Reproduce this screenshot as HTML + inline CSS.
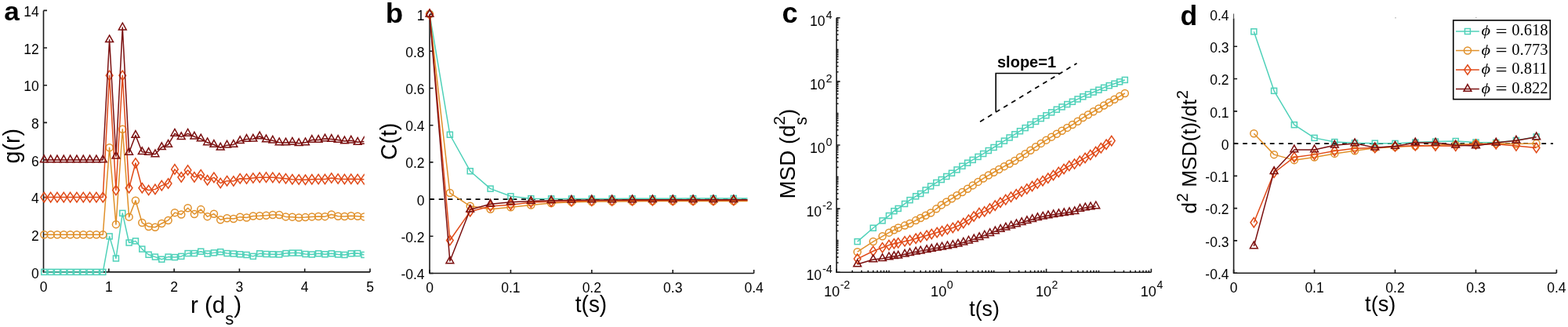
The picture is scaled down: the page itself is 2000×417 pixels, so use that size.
<!DOCTYPE html>
<html><head><meta charset="utf-8"><title>Figure</title>
<style>html,body{margin:0;padding:0;background:#fff;}svg{display:block;}</style></head>
<body><svg width="2000" height="417" viewBox="0 0 2000 417">
<defs><clipPath id="clipA"><rect x="0" y="0" width="464.8" height="417"/></clipPath><clipPath id="clipB"><rect x="500" y="0" width="453.5" height="417"/></clipPath></defs>
<rect width="2000" height="417" fill="#fff"/>
<path d="M55.5 13.42V346.9H472" fill="none" stroke="#1a1a1a" stroke-width="1.6" stroke-linecap="butt"/>
<path d="M55.5 346.9h4.5M55.5 299.26h4.5M55.5 251.62h4.5M55.5 203.98h4.5M55.5 156.34h4.5M55.5 108.7h4.5M55.5 61.06h4.5M55.5 13.42h4.5" stroke="#1a1a1a" stroke-width="1.6" fill="none"/>
<path d="M55.5 346.9v-4.5M138.8 346.9v-4.5M222.1 346.9v-4.5M305.4 346.9v-4.5M388.7 346.9v-4.5M472 346.9v-4.5" stroke="#1a1a1a" stroke-width="1.6" fill="none"/>
<text x="49.8" y="354.5" font-family="'Liberation Sans', Arial, sans-serif" font-size="17.5" text-anchor="end" font-weight="normal" >0</text>
<text x="49.8" y="306.86" font-family="'Liberation Sans', Arial, sans-serif" font-size="17.5" text-anchor="end" font-weight="normal" >2</text>
<text x="49.8" y="259.22" font-family="'Liberation Sans', Arial, sans-serif" font-size="17.5" text-anchor="end" font-weight="normal" >4</text>
<text x="49.8" y="211.58" font-family="'Liberation Sans', Arial, sans-serif" font-size="17.5" text-anchor="end" font-weight="normal" >6</text>
<text x="49.8" y="163.94" font-family="'Liberation Sans', Arial, sans-serif" font-size="17.5" text-anchor="end" font-weight="normal" >8</text>
<text x="49.8" y="116.3" font-family="'Liberation Sans', Arial, sans-serif" font-size="17.5" text-anchor="end" font-weight="normal" >10</text>
<text x="49.8" y="68.66" font-family="'Liberation Sans', Arial, sans-serif" font-size="17.5" text-anchor="end" font-weight="normal" >12</text>
<text x="49.8" y="21.02" font-family="'Liberation Sans', Arial, sans-serif" font-size="17.5" text-anchor="end" font-weight="normal" >14</text>
<text x="55.5" y="371.9" font-family="'Liberation Sans', Arial, sans-serif" font-size="17.5" text-anchor="middle" font-weight="normal" >0</text>
<text x="138.8" y="371.9" font-family="'Liberation Sans', Arial, sans-serif" font-size="17.5" text-anchor="middle" font-weight="normal" >1</text>
<text x="222.1" y="371.9" font-family="'Liberation Sans', Arial, sans-serif" font-size="17.5" text-anchor="middle" font-weight="normal" >2</text>
<text x="305.4" y="371.9" font-family="'Liberation Sans', Arial, sans-serif" font-size="17.5" text-anchor="middle" font-weight="normal" >3</text>
<text x="388.7" y="371.9" font-family="'Liberation Sans', Arial, sans-serif" font-size="17.5" text-anchor="middle" font-weight="normal" >4</text>
<text x="472" y="371.9" font-family="'Liberation Sans', Arial, sans-serif" font-size="17.5" text-anchor="middle" font-weight="normal" >5</text>
<g clip-path="url(#clipA)">
<polyline points="56.3,346.9 64.63,346.9 72.96,346.9 81.29,346.9 89.62,346.9 97.95,346.9 106.28,346.9 114.61,346.9 122.94,346.9 131.27,346.9 139.6,301.4 147.93,329.51 156.26,271.87 164.59,309.5 172.92,307.36 181.25,317.6 189.58,324.75 197.91,327.61 206.24,330.7 214.57,327.61 222.9,328.08 231.23,326.89 239.56,323.08 247.89,323.08 256.22,320.7 264.55,323.56 272.88,322.37 281.21,321.17 289.54,323.08 297.87,323.56 306.2,324.27 314.53,324.99 322.86,326.89 331.19,323.32 339.52,324.03 347.85,324.27 356.18,324.51 364.51,323.08 372.84,322.6 381.17,322.6 389.5,324.03 397.83,324.51 406.16,323.32 414.49,324.27 422.82,323.32 431.15,324.51 439.48,324.99 447.81,323.32 456.14,323.08 464.47,324.99" fill="none" stroke="#4FD1B9" stroke-width="1.5" stroke-linejoin="round"/>
<rect x="52.8" y="343.4" width="7" height="7" fill="none" stroke="#4FD1B9" stroke-width="1.5"/>
<rect x="61.13" y="343.4" width="7" height="7" fill="none" stroke="#4FD1B9" stroke-width="1.5"/>
<rect x="69.46" y="343.4" width="7" height="7" fill="none" stroke="#4FD1B9" stroke-width="1.5"/>
<rect x="77.79" y="343.4" width="7" height="7" fill="none" stroke="#4FD1B9" stroke-width="1.5"/>
<rect x="86.12" y="343.4" width="7" height="7" fill="none" stroke="#4FD1B9" stroke-width="1.5"/>
<rect x="94.45" y="343.4" width="7" height="7" fill="none" stroke="#4FD1B9" stroke-width="1.5"/>
<rect x="102.78" y="343.4" width="7" height="7" fill="none" stroke="#4FD1B9" stroke-width="1.5"/>
<rect x="111.11" y="343.4" width="7" height="7" fill="none" stroke="#4FD1B9" stroke-width="1.5"/>
<rect x="119.44" y="343.4" width="7" height="7" fill="none" stroke="#4FD1B9" stroke-width="1.5"/>
<rect x="127.77" y="343.4" width="7" height="7" fill="none" stroke="#4FD1B9" stroke-width="1.5"/>
<rect x="136.1" y="297.9" width="7" height="7" fill="none" stroke="#4FD1B9" stroke-width="1.5"/>
<rect x="144.43" y="326.01" width="7" height="7" fill="none" stroke="#4FD1B9" stroke-width="1.5"/>
<rect x="152.76" y="268.37" width="7" height="7" fill="none" stroke="#4FD1B9" stroke-width="1.5"/>
<rect x="161.09" y="306" width="7" height="7" fill="none" stroke="#4FD1B9" stroke-width="1.5"/>
<rect x="169.42" y="303.86" width="7" height="7" fill="none" stroke="#4FD1B9" stroke-width="1.5"/>
<rect x="177.75" y="314.1" width="7" height="7" fill="none" stroke="#4FD1B9" stroke-width="1.5"/>
<rect x="186.08" y="321.25" width="7" height="7" fill="none" stroke="#4FD1B9" stroke-width="1.5"/>
<rect x="194.41" y="324.11" width="7" height="7" fill="none" stroke="#4FD1B9" stroke-width="1.5"/>
<rect x="202.74" y="327.2" width="7" height="7" fill="none" stroke="#4FD1B9" stroke-width="1.5"/>
<rect x="211.07" y="324.11" width="7" height="7" fill="none" stroke="#4FD1B9" stroke-width="1.5"/>
<rect x="219.4" y="324.58" width="7" height="7" fill="none" stroke="#4FD1B9" stroke-width="1.5"/>
<rect x="227.73" y="323.39" width="7" height="7" fill="none" stroke="#4FD1B9" stroke-width="1.5"/>
<rect x="236.06" y="319.58" width="7" height="7" fill="none" stroke="#4FD1B9" stroke-width="1.5"/>
<rect x="244.39" y="319.58" width="7" height="7" fill="none" stroke="#4FD1B9" stroke-width="1.5"/>
<rect x="252.72" y="317.2" width="7" height="7" fill="none" stroke="#4FD1B9" stroke-width="1.5"/>
<rect x="261.05" y="320.06" width="7" height="7" fill="none" stroke="#4FD1B9" stroke-width="1.5"/>
<rect x="269.38" y="318.87" width="7" height="7" fill="none" stroke="#4FD1B9" stroke-width="1.5"/>
<rect x="277.71" y="317.67" width="7" height="7" fill="none" stroke="#4FD1B9" stroke-width="1.5"/>
<rect x="286.04" y="319.58" width="7" height="7" fill="none" stroke="#4FD1B9" stroke-width="1.5"/>
<rect x="294.37" y="320.06" width="7" height="7" fill="none" stroke="#4FD1B9" stroke-width="1.5"/>
<rect x="302.7" y="320.77" width="7" height="7" fill="none" stroke="#4FD1B9" stroke-width="1.5"/>
<rect x="311.03" y="321.49" width="7" height="7" fill="none" stroke="#4FD1B9" stroke-width="1.5"/>
<rect x="319.36" y="323.39" width="7" height="7" fill="none" stroke="#4FD1B9" stroke-width="1.5"/>
<rect x="327.69" y="319.82" width="7" height="7" fill="none" stroke="#4FD1B9" stroke-width="1.5"/>
<rect x="336.02" y="320.53" width="7" height="7" fill="none" stroke="#4FD1B9" stroke-width="1.5"/>
<rect x="344.35" y="320.77" width="7" height="7" fill="none" stroke="#4FD1B9" stroke-width="1.5"/>
<rect x="352.68" y="321.01" width="7" height="7" fill="none" stroke="#4FD1B9" stroke-width="1.5"/>
<rect x="361.01" y="319.58" width="7" height="7" fill="none" stroke="#4FD1B9" stroke-width="1.5"/>
<rect x="369.34" y="319.1" width="7" height="7" fill="none" stroke="#4FD1B9" stroke-width="1.5"/>
<rect x="377.67" y="319.1" width="7" height="7" fill="none" stroke="#4FD1B9" stroke-width="1.5"/>
<rect x="386" y="320.53" width="7" height="7" fill="none" stroke="#4FD1B9" stroke-width="1.5"/>
<rect x="394.33" y="321.01" width="7" height="7" fill="none" stroke="#4FD1B9" stroke-width="1.5"/>
<rect x="402.66" y="319.82" width="7" height="7" fill="none" stroke="#4FD1B9" stroke-width="1.5"/>
<rect x="410.99" y="320.77" width="7" height="7" fill="none" stroke="#4FD1B9" stroke-width="1.5"/>
<rect x="419.32" y="319.82" width="7" height="7" fill="none" stroke="#4FD1B9" stroke-width="1.5"/>
<rect x="427.65" y="321.01" width="7" height="7" fill="none" stroke="#4FD1B9" stroke-width="1.5"/>
<rect x="435.98" y="321.49" width="7" height="7" fill="none" stroke="#4FD1B9" stroke-width="1.5"/>
<rect x="444.31" y="319.82" width="7" height="7" fill="none" stroke="#4FD1B9" stroke-width="1.5"/>
<rect x="452.64" y="319.58" width="7" height="7" fill="none" stroke="#4FD1B9" stroke-width="1.5"/>
<rect x="460.97" y="321.49" width="7" height="7" fill="none" stroke="#4FD1B9" stroke-width="1.5"/>
<polyline points="56.3,299.26 64.63,299.26 72.96,299.26 81.29,299.26 89.62,299.26 97.95,299.26 106.28,299.26 114.61,299.26 122.94,299.26 131.27,299.26 139.6,188.26 147.93,286.16 156.26,164.68 164.59,276.63 172.92,255.67 181.25,284.02 189.58,289.02 197.91,289.73 206.24,284.97 214.57,280.92 222.9,271.15 231.23,273.53 239.56,265.2 247.89,273.06 256.22,267.1 264.55,276.15 272.88,272.82 281.21,280.2 289.54,278.3 297.87,279.01 306.2,276.63 314.53,277.58 322.86,275.44 331.19,275.2 339.52,274.73 347.85,274.01 356.18,274.01 364.51,276.39 372.84,276.63 381.17,277.58 389.5,277.11 397.83,276.39 406.16,275.92 414.49,276.15 422.82,273.53 431.15,275.68 439.48,275.92 447.81,275.2 456.14,275.68 464.47,276.39" fill="none" stroke="#E0902A" stroke-width="1.5" stroke-linejoin="round"/>
<circle cx="56.3" cy="299.26" r="4.5" fill="none" stroke="#E0902A" stroke-width="1.5"/>
<circle cx="64.63" cy="299.26" r="4.5" fill="none" stroke="#E0902A" stroke-width="1.5"/>
<circle cx="72.96" cy="299.26" r="4.5" fill="none" stroke="#E0902A" stroke-width="1.5"/>
<circle cx="81.29" cy="299.26" r="4.5" fill="none" stroke="#E0902A" stroke-width="1.5"/>
<circle cx="89.62" cy="299.26" r="4.5" fill="none" stroke="#E0902A" stroke-width="1.5"/>
<circle cx="97.95" cy="299.26" r="4.5" fill="none" stroke="#E0902A" stroke-width="1.5"/>
<circle cx="106.28" cy="299.26" r="4.5" fill="none" stroke="#E0902A" stroke-width="1.5"/>
<circle cx="114.61" cy="299.26" r="4.5" fill="none" stroke="#E0902A" stroke-width="1.5"/>
<circle cx="122.94" cy="299.26" r="4.5" fill="none" stroke="#E0902A" stroke-width="1.5"/>
<circle cx="131.27" cy="299.26" r="4.5" fill="none" stroke="#E0902A" stroke-width="1.5"/>
<circle cx="139.6" cy="188.26" r="4.5" fill="none" stroke="#E0902A" stroke-width="1.5"/>
<circle cx="147.93" cy="286.16" r="4.5" fill="none" stroke="#E0902A" stroke-width="1.5"/>
<circle cx="156.26" cy="164.68" r="4.5" fill="none" stroke="#E0902A" stroke-width="1.5"/>
<circle cx="164.59" cy="276.63" r="4.5" fill="none" stroke="#E0902A" stroke-width="1.5"/>
<circle cx="172.92" cy="255.67" r="4.5" fill="none" stroke="#E0902A" stroke-width="1.5"/>
<circle cx="181.25" cy="284.02" r="4.5" fill="none" stroke="#E0902A" stroke-width="1.5"/>
<circle cx="189.58" cy="289.02" r="4.5" fill="none" stroke="#E0902A" stroke-width="1.5"/>
<circle cx="197.91" cy="289.73" r="4.5" fill="none" stroke="#E0902A" stroke-width="1.5"/>
<circle cx="206.24" cy="284.97" r="4.5" fill="none" stroke="#E0902A" stroke-width="1.5"/>
<circle cx="214.57" cy="280.92" r="4.5" fill="none" stroke="#E0902A" stroke-width="1.5"/>
<circle cx="222.9" cy="271.15" r="4.5" fill="none" stroke="#E0902A" stroke-width="1.5"/>
<circle cx="231.23" cy="273.53" r="4.5" fill="none" stroke="#E0902A" stroke-width="1.5"/>
<circle cx="239.56" cy="265.2" r="4.5" fill="none" stroke="#E0902A" stroke-width="1.5"/>
<circle cx="247.89" cy="273.06" r="4.5" fill="none" stroke="#E0902A" stroke-width="1.5"/>
<circle cx="256.22" cy="267.1" r="4.5" fill="none" stroke="#E0902A" stroke-width="1.5"/>
<circle cx="264.55" cy="276.15" r="4.5" fill="none" stroke="#E0902A" stroke-width="1.5"/>
<circle cx="272.88" cy="272.82" r="4.5" fill="none" stroke="#E0902A" stroke-width="1.5"/>
<circle cx="281.21" cy="280.2" r="4.5" fill="none" stroke="#E0902A" stroke-width="1.5"/>
<circle cx="289.54" cy="278.3" r="4.5" fill="none" stroke="#E0902A" stroke-width="1.5"/>
<circle cx="297.87" cy="279.01" r="4.5" fill="none" stroke="#E0902A" stroke-width="1.5"/>
<circle cx="306.2" cy="276.63" r="4.5" fill="none" stroke="#E0902A" stroke-width="1.5"/>
<circle cx="314.53" cy="277.58" r="4.5" fill="none" stroke="#E0902A" stroke-width="1.5"/>
<circle cx="322.86" cy="275.44" r="4.5" fill="none" stroke="#E0902A" stroke-width="1.5"/>
<circle cx="331.19" cy="275.2" r="4.5" fill="none" stroke="#E0902A" stroke-width="1.5"/>
<circle cx="339.52" cy="274.73" r="4.5" fill="none" stroke="#E0902A" stroke-width="1.5"/>
<circle cx="347.85" cy="274.01" r="4.5" fill="none" stroke="#E0902A" stroke-width="1.5"/>
<circle cx="356.18" cy="274.01" r="4.5" fill="none" stroke="#E0902A" stroke-width="1.5"/>
<circle cx="364.51" cy="276.39" r="4.5" fill="none" stroke="#E0902A" stroke-width="1.5"/>
<circle cx="372.84" cy="276.63" r="4.5" fill="none" stroke="#E0902A" stroke-width="1.5"/>
<circle cx="381.17" cy="277.58" r="4.5" fill="none" stroke="#E0902A" stroke-width="1.5"/>
<circle cx="389.5" cy="277.11" r="4.5" fill="none" stroke="#E0902A" stroke-width="1.5"/>
<circle cx="397.83" cy="276.39" r="4.5" fill="none" stroke="#E0902A" stroke-width="1.5"/>
<circle cx="406.16" cy="275.92" r="4.5" fill="none" stroke="#E0902A" stroke-width="1.5"/>
<circle cx="414.49" cy="276.15" r="4.5" fill="none" stroke="#E0902A" stroke-width="1.5"/>
<circle cx="422.82" cy="273.53" r="4.5" fill="none" stroke="#E0902A" stroke-width="1.5"/>
<circle cx="431.15" cy="275.68" r="4.5" fill="none" stroke="#E0902A" stroke-width="1.5"/>
<circle cx="439.48" cy="275.92" r="4.5" fill="none" stroke="#E0902A" stroke-width="1.5"/>
<circle cx="447.81" cy="275.2" r="4.5" fill="none" stroke="#E0902A" stroke-width="1.5"/>
<circle cx="456.14" cy="275.68" r="4.5" fill="none" stroke="#E0902A" stroke-width="1.5"/>
<circle cx="464.47" cy="276.39" r="4.5" fill="none" stroke="#E0902A" stroke-width="1.5"/>
<polyline points="56.3,251.62 64.63,251.62 72.96,251.62 81.29,251.62 89.62,251.62 97.95,251.62 106.28,251.62 114.61,251.62 122.94,251.62 131.27,251.62 139.6,96.31 147.93,242.57 156.26,96.31 164.59,239.71 172.92,208.03 181.25,239.71 189.58,242.57 197.91,241.38 206.24,236.61 214.57,233.99 222.9,215.89 231.23,225.89 239.56,217.08 247.89,225.89 256.22,222.8 264.55,229.71 272.88,226.37 281.21,233.52 289.54,230.66 297.87,230.9 306.2,227.8 314.53,228.04 322.86,227.09 331.19,226.37 339.52,226.13 347.85,226.37 356.18,227.09 364.51,227.8 372.84,228.75 381.17,228.99 389.5,229.23 397.83,228.75 406.16,228.51 414.49,228.51 422.82,227.09 431.15,228.04 439.48,228.51 447.81,228.28 456.14,228.51 464.47,228.75" fill="none" stroke="#E04A18" stroke-width="1.5" stroke-linejoin="round"/>
<path d="M56.3 245.42L60.6 251.62L56.3 257.82L52 251.62Z" fill="none" stroke="#E04A18" stroke-width="1.5" stroke-linejoin="miter"/>
<path d="M64.63 245.42L68.93 251.62L64.63 257.82L60.33 251.62Z" fill="none" stroke="#E04A18" stroke-width="1.5" stroke-linejoin="miter"/>
<path d="M72.96 245.42L77.26 251.62L72.96 257.82L68.66 251.62Z" fill="none" stroke="#E04A18" stroke-width="1.5" stroke-linejoin="miter"/>
<path d="M81.29 245.42L85.59 251.62L81.29 257.82L76.99 251.62Z" fill="none" stroke="#E04A18" stroke-width="1.5" stroke-linejoin="miter"/>
<path d="M89.62 245.42L93.92 251.62L89.62 257.82L85.32 251.62Z" fill="none" stroke="#E04A18" stroke-width="1.5" stroke-linejoin="miter"/>
<path d="M97.95 245.42L102.25 251.62L97.95 257.82L93.65 251.62Z" fill="none" stroke="#E04A18" stroke-width="1.5" stroke-linejoin="miter"/>
<path d="M106.28 245.42L110.58 251.62L106.28 257.82L101.98 251.62Z" fill="none" stroke="#E04A18" stroke-width="1.5" stroke-linejoin="miter"/>
<path d="M114.61 245.42L118.91 251.62L114.61 257.82L110.31 251.62Z" fill="none" stroke="#E04A18" stroke-width="1.5" stroke-linejoin="miter"/>
<path d="M122.94 245.42L127.24 251.62L122.94 257.82L118.64 251.62Z" fill="none" stroke="#E04A18" stroke-width="1.5" stroke-linejoin="miter"/>
<path d="M131.27 245.42L135.57 251.62L131.27 257.82L126.97 251.62Z" fill="none" stroke="#E04A18" stroke-width="1.5" stroke-linejoin="miter"/>
<path d="M139.6 90.11L143.9 96.31L139.6 102.51L135.3 96.31Z" fill="none" stroke="#E04A18" stroke-width="1.5" stroke-linejoin="miter"/>
<path d="M147.93 236.37L152.23 242.57L147.93 248.77L143.63 242.57Z" fill="none" stroke="#E04A18" stroke-width="1.5" stroke-linejoin="miter"/>
<path d="M156.26 90.11L160.56 96.31L156.26 102.51L151.96 96.31Z" fill="none" stroke="#E04A18" stroke-width="1.5" stroke-linejoin="miter"/>
<path d="M164.59 233.51L168.89 239.71L164.59 245.91L160.29 239.71Z" fill="none" stroke="#E04A18" stroke-width="1.5" stroke-linejoin="miter"/>
<path d="M172.92 201.83L177.22 208.03L172.92 214.23L168.62 208.03Z" fill="none" stroke="#E04A18" stroke-width="1.5" stroke-linejoin="miter"/>
<path d="M181.25 233.51L185.55 239.71L181.25 245.91L176.95 239.71Z" fill="none" stroke="#E04A18" stroke-width="1.5" stroke-linejoin="miter"/>
<path d="M189.58 236.37L193.88 242.57L189.58 248.77L185.28 242.57Z" fill="none" stroke="#E04A18" stroke-width="1.5" stroke-linejoin="miter"/>
<path d="M197.91 235.18L202.21 241.38L197.91 247.58L193.61 241.38Z" fill="none" stroke="#E04A18" stroke-width="1.5" stroke-linejoin="miter"/>
<path d="M206.24 230.41L210.54 236.61L206.24 242.81L201.94 236.61Z" fill="none" stroke="#E04A18" stroke-width="1.5" stroke-linejoin="miter"/>
<path d="M214.57 227.79L218.87 233.99L214.57 240.19L210.27 233.99Z" fill="none" stroke="#E04A18" stroke-width="1.5" stroke-linejoin="miter"/>
<path d="M222.9 209.69L227.2 215.89L222.9 222.09L218.6 215.89Z" fill="none" stroke="#E04A18" stroke-width="1.5" stroke-linejoin="miter"/>
<path d="M231.23 219.69L235.53 225.89L231.23 232.09L226.93 225.89Z" fill="none" stroke="#E04A18" stroke-width="1.5" stroke-linejoin="miter"/>
<path d="M239.56 210.88L243.86 217.08L239.56 223.28L235.26 217.08Z" fill="none" stroke="#E04A18" stroke-width="1.5" stroke-linejoin="miter"/>
<path d="M247.89 219.69L252.19 225.89L247.89 232.09L243.59 225.89Z" fill="none" stroke="#E04A18" stroke-width="1.5" stroke-linejoin="miter"/>
<path d="M256.22 216.6L260.52 222.8L256.22 229L251.92 222.8Z" fill="none" stroke="#E04A18" stroke-width="1.5" stroke-linejoin="miter"/>
<path d="M264.55 223.51L268.85 229.71L264.55 235.91L260.25 229.71Z" fill="none" stroke="#E04A18" stroke-width="1.5" stroke-linejoin="miter"/>
<path d="M272.88 220.17L277.18 226.37L272.88 232.57L268.58 226.37Z" fill="none" stroke="#E04A18" stroke-width="1.5" stroke-linejoin="miter"/>
<path d="M281.21 227.32L285.51 233.52L281.21 239.72L276.91 233.52Z" fill="none" stroke="#E04A18" stroke-width="1.5" stroke-linejoin="miter"/>
<path d="M289.54 224.46L293.84 230.66L289.54 236.86L285.24 230.66Z" fill="none" stroke="#E04A18" stroke-width="1.5" stroke-linejoin="miter"/>
<path d="M297.87 224.7L302.17 230.9L297.87 237.1L293.57 230.9Z" fill="none" stroke="#E04A18" stroke-width="1.5" stroke-linejoin="miter"/>
<path d="M306.2 221.6L310.5 227.8L306.2 234L301.9 227.8Z" fill="none" stroke="#E04A18" stroke-width="1.5" stroke-linejoin="miter"/>
<path d="M314.53 221.84L318.83 228.04L314.53 234.24L310.23 228.04Z" fill="none" stroke="#E04A18" stroke-width="1.5" stroke-linejoin="miter"/>
<path d="M322.86 220.89L327.16 227.09L322.86 233.29L318.56 227.09Z" fill="none" stroke="#E04A18" stroke-width="1.5" stroke-linejoin="miter"/>
<path d="M331.19 220.17L335.49 226.37L331.19 232.57L326.89 226.37Z" fill="none" stroke="#E04A18" stroke-width="1.5" stroke-linejoin="miter"/>
<path d="M339.52 219.93L343.82 226.13L339.52 232.33L335.22 226.13Z" fill="none" stroke="#E04A18" stroke-width="1.5" stroke-linejoin="miter"/>
<path d="M347.85 220.17L352.15 226.37L347.85 232.57L343.55 226.37Z" fill="none" stroke="#E04A18" stroke-width="1.5" stroke-linejoin="miter"/>
<path d="M356.18 220.89L360.48 227.09L356.18 233.29L351.88 227.09Z" fill="none" stroke="#E04A18" stroke-width="1.5" stroke-linejoin="miter"/>
<path d="M364.51 221.6L368.81 227.8L364.51 234L360.21 227.8Z" fill="none" stroke="#E04A18" stroke-width="1.5" stroke-linejoin="miter"/>
<path d="M372.84 222.55L377.14 228.75L372.84 234.95L368.54 228.75Z" fill="none" stroke="#E04A18" stroke-width="1.5" stroke-linejoin="miter"/>
<path d="M381.17 222.79L385.47 228.99L381.17 235.19L376.87 228.99Z" fill="none" stroke="#E04A18" stroke-width="1.5" stroke-linejoin="miter"/>
<path d="M389.5 223.03L393.8 229.23L389.5 235.43L385.2 229.23Z" fill="none" stroke="#E04A18" stroke-width="1.5" stroke-linejoin="miter"/>
<path d="M397.83 222.55L402.13 228.75L397.83 234.95L393.53 228.75Z" fill="none" stroke="#E04A18" stroke-width="1.5" stroke-linejoin="miter"/>
<path d="M406.16 222.31L410.46 228.51L406.16 234.71L401.86 228.51Z" fill="none" stroke="#E04A18" stroke-width="1.5" stroke-linejoin="miter"/>
<path d="M414.49 222.31L418.79 228.51L414.49 234.71L410.19 228.51Z" fill="none" stroke="#E04A18" stroke-width="1.5" stroke-linejoin="miter"/>
<path d="M422.82 220.89L427.12 227.09L422.82 233.29L418.52 227.09Z" fill="none" stroke="#E04A18" stroke-width="1.5" stroke-linejoin="miter"/>
<path d="M431.15 221.84L435.45 228.04L431.15 234.24L426.85 228.04Z" fill="none" stroke="#E04A18" stroke-width="1.5" stroke-linejoin="miter"/>
<path d="M439.48 222.31L443.78 228.51L439.48 234.71L435.18 228.51Z" fill="none" stroke="#E04A18" stroke-width="1.5" stroke-linejoin="miter"/>
<path d="M447.81 222.08L452.11 228.28L447.81 234.48L443.51 228.28Z" fill="none" stroke="#E04A18" stroke-width="1.5" stroke-linejoin="miter"/>
<path d="M456.14 222.31L460.44 228.51L456.14 234.71L451.84 228.51Z" fill="none" stroke="#E04A18" stroke-width="1.5" stroke-linejoin="miter"/>
<path d="M464.47 222.55L468.77 228.75L464.47 234.95L460.17 228.75Z" fill="none" stroke="#E04A18" stroke-width="1.5" stroke-linejoin="miter"/>
<polyline points="56.3,203.98 64.63,203.98 72.96,203.98 81.29,203.98 89.62,203.98 97.95,203.98 106.28,203.98 114.61,203.98 122.94,203.98 131.27,203.98 139.6,50.82 147.93,199.22 156.26,35.1 164.59,194.45 172.92,172.54 181.25,193.74 189.58,194.45 197.91,196.83 206.24,187.78 214.57,184.45 222.9,170.39 231.23,174.68 239.56,170.39 247.89,174.2 256.22,177.06 264.55,181.83 272.88,184.45 281.21,188.26 289.54,185.16 297.87,184.45 306.2,179.68 314.53,177.54 322.86,177.3 331.19,173.97 339.52,178.02 347.85,179.21 356.18,181.83 364.51,182.07 372.84,181.35 381.17,182.78 389.5,181.83 397.83,178.49 406.16,178.49 414.49,177.06 422.82,177.54 431.15,178.49 439.48,179.92 447.81,179.21 456.14,181.35 464.47,180.4" fill="none" stroke="#7B1010" stroke-width="1.5" stroke-linejoin="round"/>
<path d="M56.3 198.08L61.2 206.78L51.4 206.78Z" fill="none" stroke="#7B1010" stroke-width="1.5" stroke-linejoin="miter"/>
<path d="M64.63 198.08L69.53 206.78L59.73 206.78Z" fill="none" stroke="#7B1010" stroke-width="1.5" stroke-linejoin="miter"/>
<path d="M72.96 198.08L77.86 206.78L68.06 206.78Z" fill="none" stroke="#7B1010" stroke-width="1.5" stroke-linejoin="miter"/>
<path d="M81.29 198.08L86.19 206.78L76.39 206.78Z" fill="none" stroke="#7B1010" stroke-width="1.5" stroke-linejoin="miter"/>
<path d="M89.62 198.08L94.52 206.78L84.72 206.78Z" fill="none" stroke="#7B1010" stroke-width="1.5" stroke-linejoin="miter"/>
<path d="M97.95 198.08L102.85 206.78L93.05 206.78Z" fill="none" stroke="#7B1010" stroke-width="1.5" stroke-linejoin="miter"/>
<path d="M106.28 198.08L111.18 206.78L101.38 206.78Z" fill="none" stroke="#7B1010" stroke-width="1.5" stroke-linejoin="miter"/>
<path d="M114.61 198.08L119.51 206.78L109.71 206.78Z" fill="none" stroke="#7B1010" stroke-width="1.5" stroke-linejoin="miter"/>
<path d="M122.94 198.08L127.84 206.78L118.04 206.78Z" fill="none" stroke="#7B1010" stroke-width="1.5" stroke-linejoin="miter"/>
<path d="M131.27 198.08L136.17 206.78L126.37 206.78Z" fill="none" stroke="#7B1010" stroke-width="1.5" stroke-linejoin="miter"/>
<path d="M139.6 44.92L144.5 53.62L134.7 53.62Z" fill="none" stroke="#7B1010" stroke-width="1.5" stroke-linejoin="miter"/>
<path d="M147.93 193.32L152.83 202.02L143.03 202.02Z" fill="none" stroke="#7B1010" stroke-width="1.5" stroke-linejoin="miter"/>
<path d="M156.26 29.2L161.16 37.9L151.36 37.9Z" fill="none" stroke="#7B1010" stroke-width="1.5" stroke-linejoin="miter"/>
<path d="M164.59 188.55L169.49 197.25L159.69 197.25Z" fill="none" stroke="#7B1010" stroke-width="1.5" stroke-linejoin="miter"/>
<path d="M172.92 166.64L177.82 175.34L168.02 175.34Z" fill="none" stroke="#7B1010" stroke-width="1.5" stroke-linejoin="miter"/>
<path d="M181.25 187.84L186.15 196.54L176.35 196.54Z" fill="none" stroke="#7B1010" stroke-width="1.5" stroke-linejoin="miter"/>
<path d="M189.58 188.55L194.48 197.25L184.68 197.25Z" fill="none" stroke="#7B1010" stroke-width="1.5" stroke-linejoin="miter"/>
<path d="M197.91 190.93L202.81 199.63L193.01 199.63Z" fill="none" stroke="#7B1010" stroke-width="1.5" stroke-linejoin="miter"/>
<path d="M206.24 181.88L211.14 190.58L201.34 190.58Z" fill="none" stroke="#7B1010" stroke-width="1.5" stroke-linejoin="miter"/>
<path d="M214.57 178.55L219.47 187.25L209.67 187.25Z" fill="none" stroke="#7B1010" stroke-width="1.5" stroke-linejoin="miter"/>
<path d="M222.9 164.49L227.8 173.19L218 173.19Z" fill="none" stroke="#7B1010" stroke-width="1.5" stroke-linejoin="miter"/>
<path d="M231.23 168.78L236.13 177.48L226.33 177.48Z" fill="none" stroke="#7B1010" stroke-width="1.5" stroke-linejoin="miter"/>
<path d="M239.56 164.49L244.46 173.19L234.66 173.19Z" fill="none" stroke="#7B1010" stroke-width="1.5" stroke-linejoin="miter"/>
<path d="M247.89 168.3L252.79 177L242.99 177Z" fill="none" stroke="#7B1010" stroke-width="1.5" stroke-linejoin="miter"/>
<path d="M256.22 171.16L261.12 179.86L251.32 179.86Z" fill="none" stroke="#7B1010" stroke-width="1.5" stroke-linejoin="miter"/>
<path d="M264.55 175.93L269.45 184.63L259.65 184.63Z" fill="none" stroke="#7B1010" stroke-width="1.5" stroke-linejoin="miter"/>
<path d="M272.88 178.55L277.78 187.25L267.98 187.25Z" fill="none" stroke="#7B1010" stroke-width="1.5" stroke-linejoin="miter"/>
<path d="M281.21 182.36L286.11 191.06L276.31 191.06Z" fill="none" stroke="#7B1010" stroke-width="1.5" stroke-linejoin="miter"/>
<path d="M289.54 179.26L294.44 187.96L284.64 187.96Z" fill="none" stroke="#7B1010" stroke-width="1.5" stroke-linejoin="miter"/>
<path d="M297.87 178.55L302.77 187.25L292.97 187.25Z" fill="none" stroke="#7B1010" stroke-width="1.5" stroke-linejoin="miter"/>
<path d="M306.2 173.78L311.1 182.48L301.3 182.48Z" fill="none" stroke="#7B1010" stroke-width="1.5" stroke-linejoin="miter"/>
<path d="M314.53 171.64L319.43 180.34L309.63 180.34Z" fill="none" stroke="#7B1010" stroke-width="1.5" stroke-linejoin="miter"/>
<path d="M322.86 171.4L327.76 180.1L317.96 180.1Z" fill="none" stroke="#7B1010" stroke-width="1.5" stroke-linejoin="miter"/>
<path d="M331.19 168.07L336.09 176.77L326.29 176.77Z" fill="none" stroke="#7B1010" stroke-width="1.5" stroke-linejoin="miter"/>
<path d="M339.52 172.12L344.42 180.82L334.62 180.82Z" fill="none" stroke="#7B1010" stroke-width="1.5" stroke-linejoin="miter"/>
<path d="M347.85 173.31L352.75 182.01L342.95 182.01Z" fill="none" stroke="#7B1010" stroke-width="1.5" stroke-linejoin="miter"/>
<path d="M356.18 175.93L361.08 184.63L351.28 184.63Z" fill="none" stroke="#7B1010" stroke-width="1.5" stroke-linejoin="miter"/>
<path d="M364.51 176.17L369.41 184.87L359.61 184.87Z" fill="none" stroke="#7B1010" stroke-width="1.5" stroke-linejoin="miter"/>
<path d="M372.84 175.45L377.74 184.15L367.94 184.15Z" fill="none" stroke="#7B1010" stroke-width="1.5" stroke-linejoin="miter"/>
<path d="M381.17 176.88L386.07 185.58L376.27 185.58Z" fill="none" stroke="#7B1010" stroke-width="1.5" stroke-linejoin="miter"/>
<path d="M389.5 175.93L394.4 184.63L384.6 184.63Z" fill="none" stroke="#7B1010" stroke-width="1.5" stroke-linejoin="miter"/>
<path d="M397.83 172.59L402.73 181.29L392.93 181.29Z" fill="none" stroke="#7B1010" stroke-width="1.5" stroke-linejoin="miter"/>
<path d="M406.16 172.59L411.06 181.29L401.26 181.29Z" fill="none" stroke="#7B1010" stroke-width="1.5" stroke-linejoin="miter"/>
<path d="M414.49 171.16L419.39 179.86L409.59 179.86Z" fill="none" stroke="#7B1010" stroke-width="1.5" stroke-linejoin="miter"/>
<path d="M422.82 171.64L427.72 180.34L417.92 180.34Z" fill="none" stroke="#7B1010" stroke-width="1.5" stroke-linejoin="miter"/>
<path d="M431.15 172.59L436.05 181.29L426.25 181.29Z" fill="none" stroke="#7B1010" stroke-width="1.5" stroke-linejoin="miter"/>
<path d="M439.48 174.02L444.38 182.72L434.58 182.72Z" fill="none" stroke="#7B1010" stroke-width="1.5" stroke-linejoin="miter"/>
<path d="M447.81 173.31L452.71 182.01L442.91 182.01Z" fill="none" stroke="#7B1010" stroke-width="1.5" stroke-linejoin="miter"/>
<path d="M456.14 175.45L461.04 184.15L451.24 184.15Z" fill="none" stroke="#7B1010" stroke-width="1.5" stroke-linejoin="miter"/>
<path d="M464.47 174.5L469.37 183.2L459.57 183.2Z" fill="none" stroke="#7B1010" stroke-width="1.5" stroke-linejoin="miter"/>
</g>
<text transform="translate(24.9 186.2) rotate(-90) scale(1 1)" font-family="'Liberation Sans', Arial, sans-serif" font-size="28.7" text-anchor="middle">g(r)</text>
<text x="243" y="399" font-family="'Liberation Sans', Arial, sans-serif" font-size="29.5">r (d<tspan font-size="22" dy="15.3">s</tspan><tspan dy="-15.5">)</tspan></text>
<text transform="translate(5.2 26.2) scale(1.08 1)" font-family="'Liberation Sans', Arial, sans-serif" font-size="32.5" font-weight="bold">a</text>
<path d="M548 18.1V348.5H961.6" fill="none" stroke="#1a1a1a" stroke-width="1.6" stroke-linecap="butt"/>
<path d="M548 18.1h4.5M548 65.3h4.5M548 112.5h4.5M548 159.7h4.5M548 206.9h4.5M548 254.1h4.5M548 301.3h4.5M548 348.5h4.5" stroke="#1a1a1a" stroke-width="1.6" fill="none"/>
<path d="M548 348.5v-4.5M651.4 348.5v-4.5M754.8 348.5v-4.5M858.2 348.5v-4.5M961.6 348.5v-4.5" stroke="#1a1a1a" stroke-width="1.6" fill="none"/>
<text x="541.6" y="25.6" font-family="'Liberation Sans', Arial, sans-serif" font-size="17.5" text-anchor="end" font-weight="normal" >1</text>
<text x="541.6" y="72.8" font-family="'Liberation Sans', Arial, sans-serif" font-size="17.5" text-anchor="end" font-weight="normal" >0.8</text>
<text x="541.6" y="120" font-family="'Liberation Sans', Arial, sans-serif" font-size="17.5" text-anchor="end" font-weight="normal" >0.6</text>
<text x="541.6" y="167.2" font-family="'Liberation Sans', Arial, sans-serif" font-size="17.5" text-anchor="end" font-weight="normal" >0.4</text>
<text x="541.6" y="214.4" font-family="'Liberation Sans', Arial, sans-serif" font-size="17.5" text-anchor="end" font-weight="normal" >0.2</text>
<text x="541.6" y="261.6" font-family="'Liberation Sans', Arial, sans-serif" font-size="17.5" text-anchor="end" font-weight="normal" >0</text>
<text x="541.6" y="308.8" font-family="'Liberation Sans', Arial, sans-serif" font-size="17.5" text-anchor="end" font-weight="normal" >-0.2</text>
<text x="541.6" y="356" font-family="'Liberation Sans', Arial, sans-serif" font-size="17.5" text-anchor="end" font-weight="normal" >-0.4</text>
<text x="548" y="372.9" font-family="'Liberation Sans', Arial, sans-serif" font-size="17.5" text-anchor="middle" font-weight="normal" >0</text>
<text x="651.4" y="372.9" font-family="'Liberation Sans', Arial, sans-serif" font-size="17.5" text-anchor="middle" font-weight="normal" >0.1</text>
<text x="754.8" y="372.9" font-family="'Liberation Sans', Arial, sans-serif" font-size="17.5" text-anchor="middle" font-weight="normal" >0.2</text>
<text x="858.2" y="372.9" font-family="'Liberation Sans', Arial, sans-serif" font-size="17.5" text-anchor="middle" font-weight="normal" >0.3</text>
<text x="961.6" y="372.9" font-family="'Liberation Sans', Arial, sans-serif" font-size="17.5" text-anchor="middle" font-weight="normal" >0.4</text>
<path d="M548 254.1H953.5" stroke="#000" stroke-width="1.75" stroke-dasharray="6 5.7" fill="none"/>
<g clip-path="url(#clipB)">
<polyline points="548,18.1 573.85,171.74 599.7,218.23 625.55,240.65 651.4,250.32 677.25,253.16 703.1,253.39 728.95,253.51 754.8,253.51 780.65,253.39 806.5,253.32 832.35,253.25 858.2,253.16 884.05,253.09 909.9,253.01 935.75,252.92 961.6,252.87" fill="none" stroke="#4FD1B9" stroke-width="1.5" stroke-linejoin="round"/>
</g>
<rect x="544.5" y="14.6" width="7" height="7" fill="none" stroke="#4FD1B9" stroke-width="1.5"/>
<rect x="570.35" y="168.24" width="7" height="7" fill="none" stroke="#4FD1B9" stroke-width="1.5"/>
<rect x="596.2" y="214.73" width="7" height="7" fill="none" stroke="#4FD1B9" stroke-width="1.5"/>
<rect x="622.05" y="237.15" width="7" height="7" fill="none" stroke="#4FD1B9" stroke-width="1.5"/>
<rect x="647.9" y="246.82" width="7" height="7" fill="none" stroke="#4FD1B9" stroke-width="1.5"/>
<rect x="673.75" y="249.66" width="7" height="7" fill="none" stroke="#4FD1B9" stroke-width="1.5"/>
<rect x="699.6" y="249.89" width="7" height="7" fill="none" stroke="#4FD1B9" stroke-width="1.5"/>
<rect x="725.45" y="250.01" width="7" height="7" fill="none" stroke="#4FD1B9" stroke-width="1.5"/>
<rect x="751.3" y="250.01" width="7" height="7" fill="none" stroke="#4FD1B9" stroke-width="1.5"/>
<rect x="777.15" y="249.89" width="7" height="7" fill="none" stroke="#4FD1B9" stroke-width="1.5"/>
<rect x="803" y="249.82" width="7" height="7" fill="none" stroke="#4FD1B9" stroke-width="1.5"/>
<rect x="828.85" y="249.75" width="7" height="7" fill="none" stroke="#4FD1B9" stroke-width="1.5"/>
<rect x="854.7" y="249.66" width="7" height="7" fill="none" stroke="#4FD1B9" stroke-width="1.5"/>
<rect x="880.55" y="249.59" width="7" height="7" fill="none" stroke="#4FD1B9" stroke-width="1.5"/>
<rect x="906.4" y="249.51" width="7" height="7" fill="none" stroke="#4FD1B9" stroke-width="1.5"/>
<rect x="932.25" y="249.42" width="7" height="7" fill="none" stroke="#4FD1B9" stroke-width="1.5"/>
<g clip-path="url(#clipB)">
<polyline points="548,18.1 573.85,246.08 599.7,262.83 625.55,266.84 651.4,264.25 677.25,261.42 703.1,259.06 728.95,257.64 754.8,257.17 780.65,256.93 806.5,256.7 832.35,256.58 858.2,256.46 884.05,256.46 909.9,256.46 935.75,256.46 961.6,256.46" fill="none" stroke="#E0902A" stroke-width="1.5" stroke-linejoin="round"/>
</g>
<circle cx="548" cy="18.1" r="4.5" fill="none" stroke="#E0902A" stroke-width="1.5"/>
<circle cx="573.85" cy="246.08" r="4.5" fill="none" stroke="#E0902A" stroke-width="1.5"/>
<circle cx="599.7" cy="262.83" r="4.5" fill="none" stroke="#E0902A" stroke-width="1.5"/>
<circle cx="625.55" cy="266.84" r="4.5" fill="none" stroke="#E0902A" stroke-width="1.5"/>
<circle cx="651.4" cy="264.25" r="4.5" fill="none" stroke="#E0902A" stroke-width="1.5"/>
<circle cx="677.25" cy="261.42" r="4.5" fill="none" stroke="#E0902A" stroke-width="1.5"/>
<circle cx="703.1" cy="259.06" r="4.5" fill="none" stroke="#E0902A" stroke-width="1.5"/>
<circle cx="728.95" cy="257.64" r="4.5" fill="none" stroke="#E0902A" stroke-width="1.5"/>
<circle cx="754.8" cy="257.17" r="4.5" fill="none" stroke="#E0902A" stroke-width="1.5"/>
<circle cx="780.65" cy="256.93" r="4.5" fill="none" stroke="#E0902A" stroke-width="1.5"/>
<circle cx="806.5" cy="256.7" r="4.5" fill="none" stroke="#E0902A" stroke-width="1.5"/>
<circle cx="832.35" cy="256.58" r="4.5" fill="none" stroke="#E0902A" stroke-width="1.5"/>
<circle cx="858.2" cy="256.46" r="4.5" fill="none" stroke="#E0902A" stroke-width="1.5"/>
<circle cx="884.05" cy="256.46" r="4.5" fill="none" stroke="#E0902A" stroke-width="1.5"/>
<circle cx="909.9" cy="256.46" r="4.5" fill="none" stroke="#E0902A" stroke-width="1.5"/>
<circle cx="935.75" cy="256.46" r="4.5" fill="none" stroke="#E0902A" stroke-width="1.5"/>
<g clip-path="url(#clipB)">
<polyline points="548,18.1 573.85,306.49 599.7,269.68 625.55,263.07 651.4,261.18 677.25,258.11 703.1,257.17 728.95,256.7 754.8,256.11 780.65,255.87 806.5,255.75 832.35,255.63 858.2,255.52 884.05,255.52 909.9,255.4 935.75,255.4 961.6,255.4" fill="none" stroke="#E04A18" stroke-width="1.5" stroke-linejoin="round"/>
</g>
<path d="M548 11.9L552.3 18.1L548 24.3L543.7 18.1Z" fill="none" stroke="#E04A18" stroke-width="1.5" stroke-linejoin="miter"/>
<path d="M573.85 300.29L578.15 306.49L573.85 312.69L569.55 306.49Z" fill="none" stroke="#E04A18" stroke-width="1.5" stroke-linejoin="miter"/>
<path d="M599.7 263.48L604 269.68L599.7 275.88L595.4 269.68Z" fill="none" stroke="#E04A18" stroke-width="1.5" stroke-linejoin="miter"/>
<path d="M625.55 256.87L629.85 263.07L625.55 269.27L621.25 263.07Z" fill="none" stroke="#E04A18" stroke-width="1.5" stroke-linejoin="miter"/>
<path d="M651.4 254.98L655.7 261.18L651.4 267.38L647.1 261.18Z" fill="none" stroke="#E04A18" stroke-width="1.5" stroke-linejoin="miter"/>
<path d="M677.25 251.91L681.55 258.11L677.25 264.31L672.95 258.11Z" fill="none" stroke="#E04A18" stroke-width="1.5" stroke-linejoin="miter"/>
<path d="M703.1 250.97L707.4 257.17L703.1 263.37L698.8 257.17Z" fill="none" stroke="#E04A18" stroke-width="1.5" stroke-linejoin="miter"/>
<path d="M728.95 250.5L733.25 256.7L728.95 262.9L724.65 256.7Z" fill="none" stroke="#E04A18" stroke-width="1.5" stroke-linejoin="miter"/>
<path d="M754.8 249.91L759.1 256.11L754.8 262.31L750.5 256.11Z" fill="none" stroke="#E04A18" stroke-width="1.5" stroke-linejoin="miter"/>
<path d="M780.65 249.67L784.95 255.87L780.65 262.07L776.35 255.87Z" fill="none" stroke="#E04A18" stroke-width="1.5" stroke-linejoin="miter"/>
<path d="M806.5 249.55L810.8 255.75L806.5 261.95L802.2 255.75Z" fill="none" stroke="#E04A18" stroke-width="1.5" stroke-linejoin="miter"/>
<path d="M832.35 249.43L836.65 255.63L832.35 261.83L828.05 255.63Z" fill="none" stroke="#E04A18" stroke-width="1.5" stroke-linejoin="miter"/>
<path d="M858.2 249.32L862.5 255.52L858.2 261.72L853.9 255.52Z" fill="none" stroke="#E04A18" stroke-width="1.5" stroke-linejoin="miter"/>
<path d="M884.05 249.32L888.35 255.52L884.05 261.72L879.75 255.52Z" fill="none" stroke="#E04A18" stroke-width="1.5" stroke-linejoin="miter"/>
<path d="M909.9 249.2L914.2 255.4L909.9 261.6L905.6 255.4Z" fill="none" stroke="#E04A18" stroke-width="1.5" stroke-linejoin="miter"/>
<path d="M935.75 249.2L940.05 255.4L935.75 261.6L931.45 255.4Z" fill="none" stroke="#E04A18" stroke-width="1.5" stroke-linejoin="miter"/>
<g clip-path="url(#clipB)">
<polyline points="548,18.1 573.85,332.92 599.7,267.32 625.55,260.24 651.4,257.64 677.25,256.46 703.1,255.7 728.95,255.21 754.8,255 780.65,254.93 806.5,254.86 832.35,254.81 858.2,254.81 884.05,254.81 909.9,254.81 935.75,254.81 961.6,254.81" fill="none" stroke="#7B1010" stroke-width="1.5" stroke-linejoin="round"/>
</g>
<path d="M548 12.2L552.9 20.9L543.1 20.9Z" fill="none" stroke="#7B1010" stroke-width="1.5" stroke-linejoin="miter"/>
<path d="M573.85 327.02L578.75 335.72L568.95 335.72Z" fill="none" stroke="#7B1010" stroke-width="1.5" stroke-linejoin="miter"/>
<path d="M599.7 261.42L604.6 270.12L594.8 270.12Z" fill="none" stroke="#7B1010" stroke-width="1.5" stroke-linejoin="miter"/>
<path d="M625.55 254.34L630.45 263.04L620.65 263.04Z" fill="none" stroke="#7B1010" stroke-width="1.5" stroke-linejoin="miter"/>
<path d="M651.4 251.74L656.3 260.44L646.5 260.44Z" fill="none" stroke="#7B1010" stroke-width="1.5" stroke-linejoin="miter"/>
<path d="M677.25 250.56L682.15 259.26L672.35 259.26Z" fill="none" stroke="#7B1010" stroke-width="1.5" stroke-linejoin="miter"/>
<path d="M703.1 249.8L708 258.5L698.2 258.5Z" fill="none" stroke="#7B1010" stroke-width="1.5" stroke-linejoin="miter"/>
<path d="M728.95 249.31L733.85 258.01L724.05 258.01Z" fill="none" stroke="#7B1010" stroke-width="1.5" stroke-linejoin="miter"/>
<path d="M754.8 249.1L759.7 257.8L749.9 257.8Z" fill="none" stroke="#7B1010" stroke-width="1.5" stroke-linejoin="miter"/>
<path d="M780.65 249.03L785.55 257.73L775.75 257.73Z" fill="none" stroke="#7B1010" stroke-width="1.5" stroke-linejoin="miter"/>
<path d="M806.5 248.96L811.4 257.66L801.6 257.66Z" fill="none" stroke="#7B1010" stroke-width="1.5" stroke-linejoin="miter"/>
<path d="M832.35 248.91L837.25 257.61L827.45 257.61Z" fill="none" stroke="#7B1010" stroke-width="1.5" stroke-linejoin="miter"/>
<path d="M858.2 248.91L863.1 257.61L853.3 257.61Z" fill="none" stroke="#7B1010" stroke-width="1.5" stroke-linejoin="miter"/>
<path d="M884.05 248.91L888.95 257.61L879.15 257.61Z" fill="none" stroke="#7B1010" stroke-width="1.5" stroke-linejoin="miter"/>
<path d="M909.9 248.91L914.8 257.61L905 257.61Z" fill="none" stroke="#7B1010" stroke-width="1.5" stroke-linejoin="miter"/>
<path d="M935.75 248.91L940.65 257.61L930.85 257.61Z" fill="none" stroke="#7B1010" stroke-width="1.5" stroke-linejoin="miter"/>
<text transform="translate(505.8 180.3) rotate(-90) scale(0.96 1)" font-family="'Liberation Sans', Arial, sans-serif" font-size="29.5" text-anchor="middle">C(t)</text>
<text transform="translate(754 398) scale(0.97 1)" font-family="'Liberation Sans', Arial, sans-serif" font-size="28.8" text-anchor="middle">t(s)</text>
<text transform="translate(491.8 29.3) scale(1.03 1)" font-family="'Liberation Sans', Arial, sans-serif" font-size="35.6" font-weight="bold">b</text>
<path d="M1067 22.8V347.2H1468.4" fill="none" stroke="#1a1a1a" stroke-width="1.6" stroke-linecap="butt"/>
<path d="M1067 347.2h4.5M1067 266.1h4.5M1067 185h4.5M1067 103.9h4.5M1067 22.8h4.5" stroke="#1a1a1a" stroke-width="1.6" fill="none"/>
<path d="M1067 306.65h2.5M1067 225.55h2.5M1067 144.45h2.5M1067 63.35h2.5" stroke="#1a1a1a" stroke-width="1.6" fill="none"/>
<path d="M1067 334.99h2.5M1067 327.85h2.5M1067 322.79h2.5M1067 318.86h2.5M1067 315.65h2.5M1067 312.93h2.5M1067 310.58h2.5M1067 308.51h2.5M1067 294.44h2.5M1067 287.3h2.5M1067 282.24h2.5M1067 278.31h2.5M1067 275.1h2.5M1067 272.38h2.5M1067 270.03h2.5M1067 267.96h2.5M1067 253.89h2.5M1067 246.75h2.5M1067 241.69h2.5M1067 237.76h2.5M1067 234.55h2.5M1067 231.83h2.5M1067 229.48h2.5M1067 227.41h2.5M1067 213.34h2.5M1067 206.2h2.5M1067 201.14h2.5M1067 197.21h2.5M1067 194h2.5M1067 191.28h2.5M1067 188.93h2.5M1067 186.86h2.5M1067 172.79h2.5M1067 165.65h2.5M1067 160.59h2.5M1067 156.66h2.5M1067 153.45h2.5M1067 150.73h2.5M1067 148.38h2.5M1067 146.31h2.5M1067 132.24h2.5M1067 125.1h2.5M1067 120.04h2.5M1067 116.11h2.5M1067 112.9h2.5M1067 110.18h2.5M1067 107.83h2.5M1067 105.76h2.5M1067 91.69h2.5M1067 84.55h2.5M1067 79.49h2.5M1067 75.56h2.5M1067 72.35h2.5M1067 69.63h2.5M1067 67.28h2.5M1067 65.21h2.5M1067 51.14h2.5M1067 44h2.5M1067 38.94h2.5M1067 35.01h2.5M1067 31.8h2.5M1067 29.08h2.5M1067 26.73h2.5M1067 24.66h2.5" stroke="#1a1a1a" stroke-width="1.6" fill="none"/>
<path d="M1067 347.2v-4.5M1200.8 347.2v-4.5M1334.6 347.2v-4.5M1468.4 347.2v-4.5" stroke="#1a1a1a" stroke-width="1.6" fill="none"/>
<path d="M1133.9 347.2v-2.5M1267.7 347.2v-2.5M1401.5 347.2v-2.5" stroke="#1a1a1a" stroke-width="1.6" fill="none"/>
<path d="M1087.14 347.2v-2.5M1098.92 347.2v-2.5M1107.28 347.2v-2.5M1113.76 347.2v-2.5M1119.06 347.2v-2.5M1123.54 347.2v-2.5M1127.42 347.2v-2.5M1130.84 347.2v-2.5M1154.04 347.2v-2.5M1165.82 347.2v-2.5M1174.18 347.2v-2.5M1180.66 347.2v-2.5M1185.96 347.2v-2.5M1190.44 347.2v-2.5M1194.32 347.2v-2.5M1197.74 347.2v-2.5M1220.94 347.2v-2.5M1232.72 347.2v-2.5M1241.08 347.2v-2.5M1247.56 347.2v-2.5M1252.86 347.2v-2.5M1257.34 347.2v-2.5M1261.22 347.2v-2.5M1264.64 347.2v-2.5M1287.84 347.2v-2.5M1299.62 347.2v-2.5M1307.98 347.2v-2.5M1314.46 347.2v-2.5M1319.76 347.2v-2.5M1324.24 347.2v-2.5M1328.12 347.2v-2.5M1331.54 347.2v-2.5M1354.74 347.2v-2.5M1366.52 347.2v-2.5M1374.88 347.2v-2.5M1381.36 347.2v-2.5M1386.66 347.2v-2.5M1391.14 347.2v-2.5M1395.02 347.2v-2.5M1398.44 347.2v-2.5M1421.64 347.2v-2.5M1433.42 347.2v-2.5M1441.78 347.2v-2.5M1448.26 347.2v-2.5M1453.56 347.2v-2.5M1458.04 347.2v-2.5M1461.92 347.2v-2.5M1465.34 347.2v-2.5" stroke="#1a1a1a" stroke-width="1.6" fill="none"/>
<text x="1061.7" y="357.4" font-family="'Liberation Sans', Arial, sans-serif" font-size="17.5" text-anchor="end">10<tspan font-size="14.3" dy="-9.2" dx="1">-4</tspan></text>
<text x="1061.7" y="276.3" font-family="'Liberation Sans', Arial, sans-serif" font-size="17.5" text-anchor="end">10<tspan font-size="14.3" dy="-9.2" dx="1">-2</tspan></text>
<text x="1061.4" y="195.2" font-family="'Liberation Sans', Arial, sans-serif" font-size="17.5" text-anchor="end">10<tspan font-size="14.3" dy="-9.2" dx="1">0</tspan></text>
<text x="1061.4" y="114.1" font-family="'Liberation Sans', Arial, sans-serif" font-size="17.5" text-anchor="end">10<tspan font-size="14.3" dy="-9.2" dx="1">2</tspan></text>
<text x="1061.4" y="33" font-family="'Liberation Sans', Arial, sans-serif" font-size="17.5" text-anchor="end">10<tspan font-size="14.3" dy="-9.2" dx="1">4</tspan></text>
<text x="1067.6" y="378" font-family="'Liberation Sans', Arial, sans-serif" font-size="18.2" text-anchor="middle">10<tspan font-size="14.2" dy="-9.8" dx="0.5">-2</tspan></text>
<text x="1201.4" y="378" font-family="'Liberation Sans', Arial, sans-serif" font-size="18.2" text-anchor="middle">10<tspan font-size="14.2" dy="-9.8" dx="0.5">0</tspan></text>
<text x="1335.2" y="378" font-family="'Liberation Sans', Arial, sans-serif" font-size="18.2" text-anchor="middle">10<tspan font-size="14.2" dy="-9.8" dx="0.5">2</tspan></text>
<text x="1469" y="378" font-family="'Liberation Sans', Arial, sans-serif" font-size="18.2" text-anchor="middle">10<tspan font-size="14.2" dy="-9.8" dx="0.5">4</tspan></text>
<polyline points="1093.62,308.11 1113.76,290.76 1125.54,281.4 1133.9,275.05 1140.38,269.15 1145.68,265.95 1154.04,259.97 1160.52,255.14 1168.14,250.35 1174.18,247.01 1180.66,242.37 1187.14,237.43 1194.32,232.96 1200.8,229.07 1207.28,225.01 1214,220.77 1220.57,216.44 1227.42,211.83 1234.14,207.73 1240.71,203.91 1247.56,199.93 1254.16,196.03 1260.85,192.01 1267.55,187.99 1274.24,183.87 1280.94,179.66 1287.62,175.48 1294.32,171.33 1301.01,167.21 1307.7,163.09 1314.39,158.97 1321.08,154.95 1327.77,151.08 1334.46,147.2 1341.15,143.33 1347.84,139.66 1354.53,136.35 1361.22,133.03 1367.91,129.72 1374.6,126.41 1381.29,123.28 1387.98,120.41 1394.67,117.55 1401.36,114.69 1408.05,111.82 1414.74,109.14 1421.43,106.74 1428.12,104.33 1434.81,101.92" fill="none" stroke="#4FD1B9" stroke-width="1.5" stroke-linejoin="round"/>
<rect x="1090.12" y="304.61" width="7" height="7" fill="none" stroke="#4FD1B9" stroke-width="1.5"/>
<rect x="1110.26" y="287.26" width="7" height="7" fill="none" stroke="#4FD1B9" stroke-width="1.5"/>
<rect x="1122.04" y="277.9" width="7" height="7" fill="none" stroke="#4FD1B9" stroke-width="1.5"/>
<rect x="1130.4" y="271.55" width="7" height="7" fill="none" stroke="#4FD1B9" stroke-width="1.5"/>
<rect x="1136.88" y="265.65" width="7" height="7" fill="none" stroke="#4FD1B9" stroke-width="1.5"/>
<rect x="1142.18" y="262.45" width="7" height="7" fill="none" stroke="#4FD1B9" stroke-width="1.5"/>
<rect x="1150.54" y="256.47" width="7" height="7" fill="none" stroke="#4FD1B9" stroke-width="1.5"/>
<rect x="1157.02" y="251.64" width="7" height="7" fill="none" stroke="#4FD1B9" stroke-width="1.5"/>
<rect x="1164.64" y="246.85" width="7" height="7" fill="none" stroke="#4FD1B9" stroke-width="1.5"/>
<rect x="1170.68" y="243.51" width="7" height="7" fill="none" stroke="#4FD1B9" stroke-width="1.5"/>
<rect x="1177.16" y="238.87" width="7" height="7" fill="none" stroke="#4FD1B9" stroke-width="1.5"/>
<rect x="1183.64" y="233.93" width="7" height="7" fill="none" stroke="#4FD1B9" stroke-width="1.5"/>
<rect x="1190.82" y="229.46" width="7" height="7" fill="none" stroke="#4FD1B9" stroke-width="1.5"/>
<rect x="1197.3" y="225.57" width="7" height="7" fill="none" stroke="#4FD1B9" stroke-width="1.5"/>
<rect x="1203.78" y="221.51" width="7" height="7" fill="none" stroke="#4FD1B9" stroke-width="1.5"/>
<rect x="1210.5" y="217.27" width="7" height="7" fill="none" stroke="#4FD1B9" stroke-width="1.5"/>
<rect x="1217.07" y="212.94" width="7" height="7" fill="none" stroke="#4FD1B9" stroke-width="1.5"/>
<rect x="1223.92" y="208.33" width="7" height="7" fill="none" stroke="#4FD1B9" stroke-width="1.5"/>
<rect x="1230.64" y="204.23" width="7" height="7" fill="none" stroke="#4FD1B9" stroke-width="1.5"/>
<rect x="1237.21" y="200.41" width="7" height="7" fill="none" stroke="#4FD1B9" stroke-width="1.5"/>
<rect x="1244.06" y="196.43" width="7" height="7" fill="none" stroke="#4FD1B9" stroke-width="1.5"/>
<rect x="1250.66" y="192.53" width="7" height="7" fill="none" stroke="#4FD1B9" stroke-width="1.5"/>
<rect x="1257.35" y="188.51" width="7" height="7" fill="none" stroke="#4FD1B9" stroke-width="1.5"/>
<rect x="1264.05" y="184.49" width="7" height="7" fill="none" stroke="#4FD1B9" stroke-width="1.5"/>
<rect x="1270.74" y="180.37" width="7" height="7" fill="none" stroke="#4FD1B9" stroke-width="1.5"/>
<rect x="1277.44" y="176.16" width="7" height="7" fill="none" stroke="#4FD1B9" stroke-width="1.5"/>
<rect x="1284.12" y="171.98" width="7" height="7" fill="none" stroke="#4FD1B9" stroke-width="1.5"/>
<rect x="1290.82" y="167.83" width="7" height="7" fill="none" stroke="#4FD1B9" stroke-width="1.5"/>
<rect x="1297.51" y="163.71" width="7" height="7" fill="none" stroke="#4FD1B9" stroke-width="1.5"/>
<rect x="1304.2" y="159.59" width="7" height="7" fill="none" stroke="#4FD1B9" stroke-width="1.5"/>
<rect x="1310.89" y="155.47" width="7" height="7" fill="none" stroke="#4FD1B9" stroke-width="1.5"/>
<rect x="1317.58" y="151.45" width="7" height="7" fill="none" stroke="#4FD1B9" stroke-width="1.5"/>
<rect x="1324.27" y="147.58" width="7" height="7" fill="none" stroke="#4FD1B9" stroke-width="1.5"/>
<rect x="1330.96" y="143.7" width="7" height="7" fill="none" stroke="#4FD1B9" stroke-width="1.5"/>
<rect x="1337.65" y="139.83" width="7" height="7" fill="none" stroke="#4FD1B9" stroke-width="1.5"/>
<rect x="1344.34" y="136.16" width="7" height="7" fill="none" stroke="#4FD1B9" stroke-width="1.5"/>
<rect x="1351.03" y="132.85" width="7" height="7" fill="none" stroke="#4FD1B9" stroke-width="1.5"/>
<rect x="1357.72" y="129.53" width="7" height="7" fill="none" stroke="#4FD1B9" stroke-width="1.5"/>
<rect x="1364.41" y="126.22" width="7" height="7" fill="none" stroke="#4FD1B9" stroke-width="1.5"/>
<rect x="1371.1" y="122.91" width="7" height="7" fill="none" stroke="#4FD1B9" stroke-width="1.5"/>
<rect x="1377.79" y="119.78" width="7" height="7" fill="none" stroke="#4FD1B9" stroke-width="1.5"/>
<rect x="1384.48" y="116.91" width="7" height="7" fill="none" stroke="#4FD1B9" stroke-width="1.5"/>
<rect x="1391.17" y="114.05" width="7" height="7" fill="none" stroke="#4FD1B9" stroke-width="1.5"/>
<rect x="1397.86" y="111.19" width="7" height="7" fill="none" stroke="#4FD1B9" stroke-width="1.5"/>
<rect x="1404.55" y="108.32" width="7" height="7" fill="none" stroke="#4FD1B9" stroke-width="1.5"/>
<rect x="1411.24" y="105.64" width="7" height="7" fill="none" stroke="#4FD1B9" stroke-width="1.5"/>
<rect x="1417.93" y="103.24" width="7" height="7" fill="none" stroke="#4FD1B9" stroke-width="1.5"/>
<rect x="1424.62" y="100.83" width="7" height="7" fill="none" stroke="#4FD1B9" stroke-width="1.5"/>
<rect x="1431.31" y="98.42" width="7" height="7" fill="none" stroke="#4FD1B9" stroke-width="1.5"/>
<polyline points="1093.62,321.17 1113.76,308.05 1125.54,301.3 1133.9,296.66 1140.38,293.3 1145.68,290.47 1154.04,287.6 1160.52,284.99 1168.14,281.1 1174.18,278.02 1180.66,274.76 1187.14,271.5 1194.32,266.37 1200.8,261.41 1207.28,257.39 1214,253.28 1220.57,249.26 1227.42,245.07 1234.14,240.73 1240.71,236.41 1247.56,231.9 1254.16,227.55 1260.85,223.54 1267.55,219.74 1274.24,215.94 1280.94,212.14 1287.62,208.76 1294.32,204.96 1301.01,200.55 1307.7,196.13 1314.39,191.72 1321.08,187.3 1327.77,182.89 1334.46,178.65 1341.15,174.64 1347.84,170.68 1354.53,166.79 1361.22,162.9 1367.91,159.01 1374.6,154.72 1381.29,150.09 1387.98,146.2 1394.67,142.31 1401.36,138.43 1408.05,134.54 1414.74,130.65 1421.43,126.76 1428.12,122.87 1434.81,118.99" fill="none" stroke="#E0902A" stroke-width="1.5" stroke-linejoin="round"/>
<circle cx="1093.62" cy="321.17" r="4.5" fill="none" stroke="#E0902A" stroke-width="1.5"/>
<circle cx="1113.76" cy="308.05" r="4.5" fill="none" stroke="#E0902A" stroke-width="1.5"/>
<circle cx="1125.54" cy="301.3" r="4.5" fill="none" stroke="#E0902A" stroke-width="1.5"/>
<circle cx="1133.9" cy="296.66" r="4.5" fill="none" stroke="#E0902A" stroke-width="1.5"/>
<circle cx="1140.38" cy="293.3" r="4.5" fill="none" stroke="#E0902A" stroke-width="1.5"/>
<circle cx="1145.68" cy="290.47" r="4.5" fill="none" stroke="#E0902A" stroke-width="1.5"/>
<circle cx="1154.04" cy="287.6" r="4.5" fill="none" stroke="#E0902A" stroke-width="1.5"/>
<circle cx="1160.52" cy="284.99" r="4.5" fill="none" stroke="#E0902A" stroke-width="1.5"/>
<circle cx="1168.14" cy="281.1" r="4.5" fill="none" stroke="#E0902A" stroke-width="1.5"/>
<circle cx="1174.18" cy="278.02" r="4.5" fill="none" stroke="#E0902A" stroke-width="1.5"/>
<circle cx="1180.66" cy="274.76" r="4.5" fill="none" stroke="#E0902A" stroke-width="1.5"/>
<circle cx="1187.14" cy="271.5" r="4.5" fill="none" stroke="#E0902A" stroke-width="1.5"/>
<circle cx="1194.32" cy="266.37" r="4.5" fill="none" stroke="#E0902A" stroke-width="1.5"/>
<circle cx="1200.8" cy="261.41" r="4.5" fill="none" stroke="#E0902A" stroke-width="1.5"/>
<circle cx="1207.28" cy="257.39" r="4.5" fill="none" stroke="#E0902A" stroke-width="1.5"/>
<circle cx="1214" cy="253.28" r="4.5" fill="none" stroke="#E0902A" stroke-width="1.5"/>
<circle cx="1220.57" cy="249.26" r="4.5" fill="none" stroke="#E0902A" stroke-width="1.5"/>
<circle cx="1227.42" cy="245.07" r="4.5" fill="none" stroke="#E0902A" stroke-width="1.5"/>
<circle cx="1234.14" cy="240.73" r="4.5" fill="none" stroke="#E0902A" stroke-width="1.5"/>
<circle cx="1240.71" cy="236.41" r="4.5" fill="none" stroke="#E0902A" stroke-width="1.5"/>
<circle cx="1247.56" cy="231.9" r="4.5" fill="none" stroke="#E0902A" stroke-width="1.5"/>
<circle cx="1254.16" cy="227.55" r="4.5" fill="none" stroke="#E0902A" stroke-width="1.5"/>
<circle cx="1260.85" cy="223.54" r="4.5" fill="none" stroke="#E0902A" stroke-width="1.5"/>
<circle cx="1267.55" cy="219.74" r="4.5" fill="none" stroke="#E0902A" stroke-width="1.5"/>
<circle cx="1274.24" cy="215.94" r="4.5" fill="none" stroke="#E0902A" stroke-width="1.5"/>
<circle cx="1280.94" cy="212.14" r="4.5" fill="none" stroke="#E0902A" stroke-width="1.5"/>
<circle cx="1287.62" cy="208.76" r="4.5" fill="none" stroke="#E0902A" stroke-width="1.5"/>
<circle cx="1294.32" cy="204.96" r="4.5" fill="none" stroke="#E0902A" stroke-width="1.5"/>
<circle cx="1301.01" cy="200.55" r="4.5" fill="none" stroke="#E0902A" stroke-width="1.5"/>
<circle cx="1307.7" cy="196.13" r="4.5" fill="none" stroke="#E0902A" stroke-width="1.5"/>
<circle cx="1314.39" cy="191.72" r="4.5" fill="none" stroke="#E0902A" stroke-width="1.5"/>
<circle cx="1321.08" cy="187.3" r="4.5" fill="none" stroke="#E0902A" stroke-width="1.5"/>
<circle cx="1327.77" cy="182.89" r="4.5" fill="none" stroke="#E0902A" stroke-width="1.5"/>
<circle cx="1334.46" cy="178.65" r="4.5" fill="none" stroke="#E0902A" stroke-width="1.5"/>
<circle cx="1341.15" cy="174.64" r="4.5" fill="none" stroke="#E0902A" stroke-width="1.5"/>
<circle cx="1347.84" cy="170.68" r="4.5" fill="none" stroke="#E0902A" stroke-width="1.5"/>
<circle cx="1354.53" cy="166.79" r="4.5" fill="none" stroke="#E0902A" stroke-width="1.5"/>
<circle cx="1361.22" cy="162.9" r="4.5" fill="none" stroke="#E0902A" stroke-width="1.5"/>
<circle cx="1367.91" cy="159.01" r="4.5" fill="none" stroke="#E0902A" stroke-width="1.5"/>
<circle cx="1374.6" cy="154.72" r="4.5" fill="none" stroke="#E0902A" stroke-width="1.5"/>
<circle cx="1381.29" cy="150.09" r="4.5" fill="none" stroke="#E0902A" stroke-width="1.5"/>
<circle cx="1387.98" cy="146.2" r="4.5" fill="none" stroke="#E0902A" stroke-width="1.5"/>
<circle cx="1394.67" cy="142.31" r="4.5" fill="none" stroke="#E0902A" stroke-width="1.5"/>
<circle cx="1401.36" cy="138.43" r="4.5" fill="none" stroke="#E0902A" stroke-width="1.5"/>
<circle cx="1408.05" cy="134.54" r="4.5" fill="none" stroke="#E0902A" stroke-width="1.5"/>
<circle cx="1414.74" cy="130.65" r="4.5" fill="none" stroke="#E0902A" stroke-width="1.5"/>
<circle cx="1421.43" cy="126.76" r="4.5" fill="none" stroke="#E0902A" stroke-width="1.5"/>
<circle cx="1428.12" cy="122.87" r="4.5" fill="none" stroke="#E0902A" stroke-width="1.5"/>
<circle cx="1434.81" cy="118.99" r="4.5" fill="none" stroke="#E0902A" stroke-width="1.5"/>
<polyline points="1093.62,330.09 1113.76,320.27 1125.54,315.79 1133.9,312.59 1140.38,310.79 1145.68,309.85 1154.04,307.82 1160.52,306.42 1168.14,304.25 1174.18,302.53 1182.08,300.28 1188.28,298.51 1195.21,296.5 1201.52,294.66 1208.42,292.56 1215.35,290.44 1222.01,287.98 1228.84,284.49 1235.49,280.3 1242.15,276.03 1248.98,271.64 1255.74,269.8 1262.46,265.99 1269.26,262.13 1275.99,258.29 1282.73,254.62 1289.5,251.19 1296.26,247.76 1303,244.34 1309.76,240.91 1316.51,237.49 1323.27,234.07 1330.02,230.65 1336.78,227.23 1343.53,223.51 1350.28,219.52 1357.04,215.52 1363.79,211.53 1370.54,209.1 1377.3,205.27 1384.05,201.43 1390.81,197.6 1397.56,193.47 1404.32,188.85 1411.07,184.23 1417.82,179.61" fill="none" stroke="#E04A18" stroke-width="1.5" stroke-linejoin="round"/>
<path d="M1093.62 323.89L1097.92 330.09L1093.62 336.29L1089.32 330.09Z" fill="none" stroke="#E04A18" stroke-width="1.5" stroke-linejoin="miter"/>
<path d="M1113.76 314.07L1118.06 320.27L1113.76 326.47L1109.46 320.27Z" fill="none" stroke="#E04A18" stroke-width="1.5" stroke-linejoin="miter"/>
<path d="M1125.54 309.59L1129.84 315.79L1125.54 321.99L1121.24 315.79Z" fill="none" stroke="#E04A18" stroke-width="1.5" stroke-linejoin="miter"/>
<path d="M1133.9 306.39L1138.2 312.59L1133.9 318.79L1129.6 312.59Z" fill="none" stroke="#E04A18" stroke-width="1.5" stroke-linejoin="miter"/>
<path d="M1140.38 304.59L1144.68 310.79L1140.38 316.99L1136.08 310.79Z" fill="none" stroke="#E04A18" stroke-width="1.5" stroke-linejoin="miter"/>
<path d="M1145.68 303.65L1149.98 309.85L1145.68 316.05L1141.38 309.85Z" fill="none" stroke="#E04A18" stroke-width="1.5" stroke-linejoin="miter"/>
<path d="M1154.04 301.62L1158.34 307.82L1154.04 314.02L1149.74 307.82Z" fill="none" stroke="#E04A18" stroke-width="1.5" stroke-linejoin="miter"/>
<path d="M1160.52 300.22L1164.82 306.42L1160.52 312.62L1156.22 306.42Z" fill="none" stroke="#E04A18" stroke-width="1.5" stroke-linejoin="miter"/>
<path d="M1168.14 298.05L1172.44 304.25L1168.14 310.45L1163.84 304.25Z" fill="none" stroke="#E04A18" stroke-width="1.5" stroke-linejoin="miter"/>
<path d="M1174.18 296.33L1178.48 302.53L1174.18 308.73L1169.88 302.53Z" fill="none" stroke="#E04A18" stroke-width="1.5" stroke-linejoin="miter"/>
<path d="M1182.08 294.08L1186.38 300.28L1182.08 306.48L1177.78 300.28Z" fill="none" stroke="#E04A18" stroke-width="1.5" stroke-linejoin="miter"/>
<path d="M1188.28 292.31L1192.58 298.51L1188.28 304.71L1183.98 298.51Z" fill="none" stroke="#E04A18" stroke-width="1.5" stroke-linejoin="miter"/>
<path d="M1195.21 290.3L1199.51 296.5L1195.21 302.7L1190.91 296.5Z" fill="none" stroke="#E04A18" stroke-width="1.5" stroke-linejoin="miter"/>
<path d="M1201.52 288.46L1205.82 294.66L1201.52 300.86L1197.22 294.66Z" fill="none" stroke="#E04A18" stroke-width="1.5" stroke-linejoin="miter"/>
<path d="M1208.42 286.36L1212.72 292.56L1208.42 298.76L1204.12 292.56Z" fill="none" stroke="#E04A18" stroke-width="1.5" stroke-linejoin="miter"/>
<path d="M1215.35 284.24L1219.65 290.44L1215.35 296.64L1211.05 290.44Z" fill="none" stroke="#E04A18" stroke-width="1.5" stroke-linejoin="miter"/>
<path d="M1222.01 281.78L1226.31 287.98L1222.01 294.18L1217.71 287.98Z" fill="none" stroke="#E04A18" stroke-width="1.5" stroke-linejoin="miter"/>
<path d="M1228.84 278.29L1233.14 284.49L1228.84 290.69L1224.54 284.49Z" fill="none" stroke="#E04A18" stroke-width="1.5" stroke-linejoin="miter"/>
<path d="M1235.49 274.1L1239.79 280.3L1235.49 286.5L1231.19 280.3Z" fill="none" stroke="#E04A18" stroke-width="1.5" stroke-linejoin="miter"/>
<path d="M1242.15 269.83L1246.45 276.03L1242.15 282.23L1237.85 276.03Z" fill="none" stroke="#E04A18" stroke-width="1.5" stroke-linejoin="miter"/>
<path d="M1248.98 265.44L1253.28 271.64L1248.98 277.84L1244.68 271.64Z" fill="none" stroke="#E04A18" stroke-width="1.5" stroke-linejoin="miter"/>
<path d="M1255.74 263.6L1260.04 269.8L1255.74 276L1251.44 269.8Z" fill="none" stroke="#E04A18" stroke-width="1.5" stroke-linejoin="miter"/>
<path d="M1262.46 259.79L1266.76 265.99L1262.46 272.19L1258.16 265.99Z" fill="none" stroke="#E04A18" stroke-width="1.5" stroke-linejoin="miter"/>
<path d="M1269.26 255.93L1273.56 262.13L1269.26 268.33L1264.96 262.13Z" fill="none" stroke="#E04A18" stroke-width="1.5" stroke-linejoin="miter"/>
<path d="M1275.99 252.09L1280.29 258.29L1275.99 264.49L1271.69 258.29Z" fill="none" stroke="#E04A18" stroke-width="1.5" stroke-linejoin="miter"/>
<path d="M1282.73 248.42L1287.03 254.62L1282.73 260.82L1278.43 254.62Z" fill="none" stroke="#E04A18" stroke-width="1.5" stroke-linejoin="miter"/>
<path d="M1289.5 244.99L1293.8 251.19L1289.5 257.39L1285.2 251.19Z" fill="none" stroke="#E04A18" stroke-width="1.5" stroke-linejoin="miter"/>
<path d="M1296.26 241.56L1300.56 247.76L1296.26 253.96L1291.96 247.76Z" fill="none" stroke="#E04A18" stroke-width="1.5" stroke-linejoin="miter"/>
<path d="M1303 238.14L1307.3 244.34L1303 250.54L1298.7 244.34Z" fill="none" stroke="#E04A18" stroke-width="1.5" stroke-linejoin="miter"/>
<path d="M1309.76 234.71L1314.06 240.91L1309.76 247.11L1305.46 240.91Z" fill="none" stroke="#E04A18" stroke-width="1.5" stroke-linejoin="miter"/>
<path d="M1316.51 231.29L1320.81 237.49L1316.51 243.69L1312.21 237.49Z" fill="none" stroke="#E04A18" stroke-width="1.5" stroke-linejoin="miter"/>
<path d="M1323.27 227.87L1327.57 234.07L1323.27 240.27L1318.97 234.07Z" fill="none" stroke="#E04A18" stroke-width="1.5" stroke-linejoin="miter"/>
<path d="M1330.02 224.45L1334.32 230.65L1330.02 236.85L1325.72 230.65Z" fill="none" stroke="#E04A18" stroke-width="1.5" stroke-linejoin="miter"/>
<path d="M1336.78 221.03L1341.08 227.23L1336.78 233.43L1332.48 227.23Z" fill="none" stroke="#E04A18" stroke-width="1.5" stroke-linejoin="miter"/>
<path d="M1343.53 217.31L1347.83 223.51L1343.53 229.71L1339.23 223.51Z" fill="none" stroke="#E04A18" stroke-width="1.5" stroke-linejoin="miter"/>
<path d="M1350.28 213.32L1354.58 219.52L1350.28 225.72L1345.98 219.52Z" fill="none" stroke="#E04A18" stroke-width="1.5" stroke-linejoin="miter"/>
<path d="M1357.04 209.32L1361.34 215.52L1357.04 221.72L1352.74 215.52Z" fill="none" stroke="#E04A18" stroke-width="1.5" stroke-linejoin="miter"/>
<path d="M1363.79 205.33L1368.09 211.53L1363.79 217.73L1359.49 211.53Z" fill="none" stroke="#E04A18" stroke-width="1.5" stroke-linejoin="miter"/>
<path d="M1370.54 202.9L1374.84 209.1L1370.54 215.3L1366.24 209.1Z" fill="none" stroke="#E04A18" stroke-width="1.5" stroke-linejoin="miter"/>
<path d="M1377.3 199.07L1381.6 205.27L1377.3 211.47L1373 205.27Z" fill="none" stroke="#E04A18" stroke-width="1.5" stroke-linejoin="miter"/>
<path d="M1384.05 195.23L1388.35 201.43L1384.05 207.63L1379.75 201.43Z" fill="none" stroke="#E04A18" stroke-width="1.5" stroke-linejoin="miter"/>
<path d="M1390.81 191.4L1395.11 197.6L1390.81 203.8L1386.51 197.6Z" fill="none" stroke="#E04A18" stroke-width="1.5" stroke-linejoin="miter"/>
<path d="M1397.56 187.27L1401.86 193.47L1397.56 199.67L1393.26 193.47Z" fill="none" stroke="#E04A18" stroke-width="1.5" stroke-linejoin="miter"/>
<path d="M1404.32 182.65L1408.62 188.85L1404.32 195.05L1400.02 188.85Z" fill="none" stroke="#E04A18" stroke-width="1.5" stroke-linejoin="miter"/>
<path d="M1411.07 178.03L1415.37 184.23L1411.07 190.43L1406.77 184.23Z" fill="none" stroke="#E04A18" stroke-width="1.5" stroke-linejoin="miter"/>
<path d="M1417.82 173.41L1422.12 179.61L1417.82 185.81L1413.52 179.61Z" fill="none" stroke="#E04A18" stroke-width="1.5" stroke-linejoin="miter"/>
<polyline points="1093.62,336.98 1113.76,330.95 1125.54,329.73 1133.9,327.9 1140.38,326.79 1145.68,326.24 1154.04,324.18 1160.52,322.65 1168.14,321.24 1174.18,320.12 1182.08,318.66 1188.28,317.52 1195.21,316.26 1201.52,315.12 1208.42,313.88 1215.35,312.63 1222.01,311.29 1228.84,309.19 1235.49,307.15 1242.32,305.05 1249.12,302.68 1255.85,300.15 1262.63,297.6 1269.39,295.05 1276.15,292.46 1282.9,290.26 1289.67,288.07 1296.42,285.88 1303.17,283.78 1309.94,281.77 1316.7,279.77 1323.46,277.76 1330.22,276.32 1336.98,275 1343.74,273.73 1350.5,272.75 1357.26,271.77 1364.02,270.77 1370.78,269.74 1377.54,266.42 1384.3,264.95 1391.06,263.92 1397.82,262.9" fill="none" stroke="#7B1010" stroke-width="1.5" stroke-linejoin="round"/>
<path d="M1093.62 331.08L1098.52 339.78L1088.72 339.78Z" fill="none" stroke="#7B1010" stroke-width="1.5" stroke-linejoin="miter"/>
<path d="M1113.76 325.05L1118.66 333.75L1108.86 333.75Z" fill="none" stroke="#7B1010" stroke-width="1.5" stroke-linejoin="miter"/>
<path d="M1125.54 323.83L1130.44 332.53L1120.64 332.53Z" fill="none" stroke="#7B1010" stroke-width="1.5" stroke-linejoin="miter"/>
<path d="M1133.9 322L1138.8 330.7L1129 330.7Z" fill="none" stroke="#7B1010" stroke-width="1.5" stroke-linejoin="miter"/>
<path d="M1140.38 320.89L1145.28 329.59L1135.48 329.59Z" fill="none" stroke="#7B1010" stroke-width="1.5" stroke-linejoin="miter"/>
<path d="M1145.68 320.34L1150.58 329.04L1140.78 329.04Z" fill="none" stroke="#7B1010" stroke-width="1.5" stroke-linejoin="miter"/>
<path d="M1154.04 318.28L1158.94 326.98L1149.14 326.98Z" fill="none" stroke="#7B1010" stroke-width="1.5" stroke-linejoin="miter"/>
<path d="M1160.52 316.75L1165.42 325.45L1155.62 325.45Z" fill="none" stroke="#7B1010" stroke-width="1.5" stroke-linejoin="miter"/>
<path d="M1168.14 315.34L1173.04 324.04L1163.24 324.04Z" fill="none" stroke="#7B1010" stroke-width="1.5" stroke-linejoin="miter"/>
<path d="M1174.18 314.22L1179.08 322.92L1169.28 322.92Z" fill="none" stroke="#7B1010" stroke-width="1.5" stroke-linejoin="miter"/>
<path d="M1182.08 312.76L1186.98 321.46L1177.18 321.46Z" fill="none" stroke="#7B1010" stroke-width="1.5" stroke-linejoin="miter"/>
<path d="M1188.28 311.62L1193.18 320.32L1183.38 320.32Z" fill="none" stroke="#7B1010" stroke-width="1.5" stroke-linejoin="miter"/>
<path d="M1195.21 310.36L1200.11 319.06L1190.31 319.06Z" fill="none" stroke="#7B1010" stroke-width="1.5" stroke-linejoin="miter"/>
<path d="M1201.52 309.22L1206.42 317.92L1196.62 317.92Z" fill="none" stroke="#7B1010" stroke-width="1.5" stroke-linejoin="miter"/>
<path d="M1208.42 307.98L1213.32 316.68L1203.52 316.68Z" fill="none" stroke="#7B1010" stroke-width="1.5" stroke-linejoin="miter"/>
<path d="M1215.35 306.73L1220.25 315.43L1210.45 315.43Z" fill="none" stroke="#7B1010" stroke-width="1.5" stroke-linejoin="miter"/>
<path d="M1222.01 305.39L1226.91 314.09L1217.11 314.09Z" fill="none" stroke="#7B1010" stroke-width="1.5" stroke-linejoin="miter"/>
<path d="M1228.84 303.29L1233.74 311.99L1223.94 311.99Z" fill="none" stroke="#7B1010" stroke-width="1.5" stroke-linejoin="miter"/>
<path d="M1235.49 301.25L1240.39 309.95L1230.59 309.95Z" fill="none" stroke="#7B1010" stroke-width="1.5" stroke-linejoin="miter"/>
<path d="M1242.32 299.15L1247.22 307.85L1237.42 307.85Z" fill="none" stroke="#7B1010" stroke-width="1.5" stroke-linejoin="miter"/>
<path d="M1249.12 296.78L1254.02 305.48L1244.22 305.48Z" fill="none" stroke="#7B1010" stroke-width="1.5" stroke-linejoin="miter"/>
<path d="M1255.85 294.25L1260.75 302.95L1250.95 302.95Z" fill="none" stroke="#7B1010" stroke-width="1.5" stroke-linejoin="miter"/>
<path d="M1262.63 291.7L1267.53 300.4L1257.73 300.4Z" fill="none" stroke="#7B1010" stroke-width="1.5" stroke-linejoin="miter"/>
<path d="M1269.39 289.15L1274.29 297.85L1264.49 297.85Z" fill="none" stroke="#7B1010" stroke-width="1.5" stroke-linejoin="miter"/>
<path d="M1276.15 286.56L1281.05 295.26L1271.25 295.26Z" fill="none" stroke="#7B1010" stroke-width="1.5" stroke-linejoin="miter"/>
<path d="M1282.9 284.36L1287.8 293.06L1278 293.06Z" fill="none" stroke="#7B1010" stroke-width="1.5" stroke-linejoin="miter"/>
<path d="M1289.67 282.17L1294.57 290.87L1284.77 290.87Z" fill="none" stroke="#7B1010" stroke-width="1.5" stroke-linejoin="miter"/>
<path d="M1296.42 279.98L1301.32 288.68L1291.52 288.68Z" fill="none" stroke="#7B1010" stroke-width="1.5" stroke-linejoin="miter"/>
<path d="M1303.17 277.88L1308.07 286.58L1298.27 286.58Z" fill="none" stroke="#7B1010" stroke-width="1.5" stroke-linejoin="miter"/>
<path d="M1309.94 275.87L1314.84 284.57L1305.04 284.57Z" fill="none" stroke="#7B1010" stroke-width="1.5" stroke-linejoin="miter"/>
<path d="M1316.7 273.87L1321.6 282.57L1311.8 282.57Z" fill="none" stroke="#7B1010" stroke-width="1.5" stroke-linejoin="miter"/>
<path d="M1323.46 271.86L1328.36 280.56L1318.56 280.56Z" fill="none" stroke="#7B1010" stroke-width="1.5" stroke-linejoin="miter"/>
<path d="M1330.22 270.42L1335.12 279.12L1325.32 279.12Z" fill="none" stroke="#7B1010" stroke-width="1.5" stroke-linejoin="miter"/>
<path d="M1336.98 269.1L1341.88 277.8L1332.08 277.8Z" fill="none" stroke="#7B1010" stroke-width="1.5" stroke-linejoin="miter"/>
<path d="M1343.74 267.83L1348.64 276.53L1338.84 276.53Z" fill="none" stroke="#7B1010" stroke-width="1.5" stroke-linejoin="miter"/>
<path d="M1350.5 266.85L1355.4 275.55L1345.6 275.55Z" fill="none" stroke="#7B1010" stroke-width="1.5" stroke-linejoin="miter"/>
<path d="M1357.26 265.87L1362.16 274.57L1352.36 274.57Z" fill="none" stroke="#7B1010" stroke-width="1.5" stroke-linejoin="miter"/>
<path d="M1364.02 264.87L1368.92 273.57L1359.12 273.57Z" fill="none" stroke="#7B1010" stroke-width="1.5" stroke-linejoin="miter"/>
<path d="M1370.78 263.84L1375.68 272.54L1365.88 272.54Z" fill="none" stroke="#7B1010" stroke-width="1.5" stroke-linejoin="miter"/>
<path d="M1377.54 260.52L1382.44 269.22L1372.64 269.22Z" fill="none" stroke="#7B1010" stroke-width="1.5" stroke-linejoin="miter"/>
<path d="M1384.3 259.05L1389.2 267.75L1379.4 267.75Z" fill="none" stroke="#7B1010" stroke-width="1.5" stroke-linejoin="miter"/>
<path d="M1391.06 258.02L1395.96 266.72L1386.16 266.72Z" fill="none" stroke="#7B1010" stroke-width="1.5" stroke-linejoin="miter"/>
<path d="M1397.82 257L1402.72 265.7L1392.92 265.7Z" fill="none" stroke="#7B1010" stroke-width="1.5" stroke-linejoin="miter"/>
<path d="M1270.2 142.6V93.5H1352.1" stroke="#000" stroke-width="1.6" fill="none"/>
<path d="M1250.1 155.2L1373.5 80.7" stroke="#000" stroke-width="1.75" stroke-dasharray="6 5.7" fill="none"/>
<text x="1272" y="85.5" font-family="'Liberation Sans', Arial, sans-serif" font-size="20" text-anchor="start" font-weight="bold" >slope=1</text>
<text transform="translate(1014.3 253.5) rotate(-90) scale(0.985 1)" font-family="'Liberation Sans', Arial, sans-serif" font-size="28.2" text-anchor="start">MSD (d<tspan font-size="21.5" dy="14.3">s</tspan><tspan font-size="21" dy="-27.9" dx="-10.75">2</tspan><tspan dy="13.6" dx="0">)</tspan></text>
<text transform="translate(1255.6 402.5) scale(0.96 1)" font-family="'Liberation Sans', Arial, sans-serif" font-size="28" text-anchor="middle">t(s)</text>
<text transform="translate(997.4 28.5) scale(1.0 1)" font-family="'Liberation Sans', Arial, sans-serif" font-size="36" font-weight="bold">c</text>
<path d="M1573.6 23.4V348.18H1985.4" fill="none" stroke="#1a1a1a" stroke-width="1.6" stroke-linecap="butt"/>
<path d="M1573.6 17.5V23.6" stroke="#333" stroke-width="0.9" fill="none"/>
<path d="M1573.6 59.29h4.5M1573.6 100.56h4.5M1573.6 141.83h4.5M1573.6 183.1h4.5M1573.6 224.37h4.5M1573.6 265.64h4.5M1573.6 306.91h4.5M1573.6 348.18h4.5" stroke="#1a1a1a" stroke-width="1.6" fill="none"/>
<path d="M1573.6 348.18v-4.5M1676.55 348.18v-4.5M1779.5 348.18v-4.5M1882.45 348.18v-4.5M1985.4 348.18v-4.5" stroke="#1a1a1a" stroke-width="1.6" fill="none"/>
<text x="1567.5" y="25.72" font-family="'Liberation Sans', Arial, sans-serif" font-size="17.5" text-anchor="end" font-weight="normal" >0.4</text>
<text x="1567.5" y="66.99" font-family="'Liberation Sans', Arial, sans-serif" font-size="17.5" text-anchor="end" font-weight="normal" >0.3</text>
<text x="1567.5" y="108.26" font-family="'Liberation Sans', Arial, sans-serif" font-size="17.5" text-anchor="end" font-weight="normal" >0.2</text>
<text x="1567.5" y="149.53" font-family="'Liberation Sans', Arial, sans-serif" font-size="17.5" text-anchor="end" font-weight="normal" >0.1</text>
<text x="1567.5" y="190.8" font-family="'Liberation Sans', Arial, sans-serif" font-size="17.5" text-anchor="end" font-weight="normal" >0</text>
<text x="1567.5" y="232.07" font-family="'Liberation Sans', Arial, sans-serif" font-size="17.5" text-anchor="end" font-weight="normal" >-0.1</text>
<text x="1567.5" y="273.34" font-family="'Liberation Sans', Arial, sans-serif" font-size="17.5" text-anchor="end" font-weight="normal" >-0.2</text>
<text x="1567.5" y="314.61" font-family="'Liberation Sans', Arial, sans-serif" font-size="17.5" text-anchor="end" font-weight="normal" >-0.3</text>
<text x="1567.5" y="355.88" font-family="'Liberation Sans', Arial, sans-serif" font-size="17.5" text-anchor="end" font-weight="normal" >-0.4</text>
<text x="1573.6" y="372.9" font-family="'Liberation Sans', Arial, sans-serif" font-size="17.5" text-anchor="middle" font-weight="normal" >0</text>
<text x="1676.55" y="372.9" font-family="'Liberation Sans', Arial, sans-serif" font-size="17.5" text-anchor="middle" font-weight="normal" >0.1</text>
<text x="1779.5" y="372.9" font-family="'Liberation Sans', Arial, sans-serif" font-size="17.5" text-anchor="middle" font-weight="normal" >0.2</text>
<text x="1882.45" y="372.9" font-family="'Liberation Sans', Arial, sans-serif" font-size="17.5" text-anchor="middle" font-weight="normal" >0.3</text>
<text x="1985.4" y="372.9" font-family="'Liberation Sans', Arial, sans-serif" font-size="17.5" text-anchor="middle" font-weight="normal" >0.4</text>
<path d="M1573.6 183.1H1981" stroke="#000" stroke-width="1.75" stroke-dasharray="5.8 5.75" fill="none"/>
<polyline points="1599.34,40.31 1625.07,115.83 1650.81,159.16 1676.55,175.88 1702.29,181.04 1728.02,182.27 1753.76,182.69 1779.5,182.89 1805.24,181.61 1830.97,180.62 1856.71,180 1882.45,181.45 1908.19,181.86 1933.92,178.97 1959.66,174.43" fill="none" stroke="#4FD1B9" stroke-width="1.5" stroke-linejoin="round"/>
<rect x="1595.84" y="36.81" width="7" height="7" fill="none" stroke="#4FD1B9" stroke-width="1.5"/>
<rect x="1621.57" y="112.33" width="7" height="7" fill="none" stroke="#4FD1B9" stroke-width="1.5"/>
<rect x="1647.31" y="155.66" width="7" height="7" fill="none" stroke="#4FD1B9" stroke-width="1.5"/>
<rect x="1673.05" y="172.38" width="7" height="7" fill="none" stroke="#4FD1B9" stroke-width="1.5"/>
<rect x="1698.79" y="177.54" width="7" height="7" fill="none" stroke="#4FD1B9" stroke-width="1.5"/>
<rect x="1724.52" y="178.77" width="7" height="7" fill="none" stroke="#4FD1B9" stroke-width="1.5"/>
<rect x="1750.26" y="179.19" width="7" height="7" fill="none" stroke="#4FD1B9" stroke-width="1.5"/>
<rect x="1776" y="179.39" width="7" height="7" fill="none" stroke="#4FD1B9" stroke-width="1.5"/>
<rect x="1801.74" y="178.11" width="7" height="7" fill="none" stroke="#4FD1B9" stroke-width="1.5"/>
<rect x="1827.47" y="177.12" width="7" height="7" fill="none" stroke="#4FD1B9" stroke-width="1.5"/>
<rect x="1853.21" y="176.5" width="7" height="7" fill="none" stroke="#4FD1B9" stroke-width="1.5"/>
<rect x="1878.95" y="177.95" width="7" height="7" fill="none" stroke="#4FD1B9" stroke-width="1.5"/>
<rect x="1904.69" y="178.36" width="7" height="7" fill="none" stroke="#4FD1B9" stroke-width="1.5"/>
<rect x="1930.42" y="175.47" width="7" height="7" fill="none" stroke="#4FD1B9" stroke-width="1.5"/>
<rect x="1956.16" y="170.93" width="7" height="7" fill="none" stroke="#4FD1B9" stroke-width="1.5"/>
<polyline points="1599.34,170.31 1625.07,197.13 1650.81,204.15 1676.55,200.43 1702.29,195.89 1728.02,192.18 1753.76,188.88 1779.5,187.23 1805.24,186.2 1830.97,185 1856.71,184.59 1882.45,183.51 1908.19,183.1 1933.92,183.51 1959.66,183.1" fill="none" stroke="#E0902A" stroke-width="1.5" stroke-linejoin="round"/>
<circle cx="1599.34" cy="170.31" r="4.5" fill="none" stroke="#E0902A" stroke-width="1.5"/>
<circle cx="1625.07" cy="197.13" r="4.5" fill="none" stroke="#E0902A" stroke-width="1.5"/>
<circle cx="1650.81" cy="204.15" r="4.5" fill="none" stroke="#E0902A" stroke-width="1.5"/>
<circle cx="1676.55" cy="200.43" r="4.5" fill="none" stroke="#E0902A" stroke-width="1.5"/>
<circle cx="1702.29" cy="195.89" r="4.5" fill="none" stroke="#E0902A" stroke-width="1.5"/>
<circle cx="1728.02" cy="192.18" r="4.5" fill="none" stroke="#E0902A" stroke-width="1.5"/>
<circle cx="1753.76" cy="188.88" r="4.5" fill="none" stroke="#E0902A" stroke-width="1.5"/>
<circle cx="1779.5" cy="187.23" r="4.5" fill="none" stroke="#E0902A" stroke-width="1.5"/>
<circle cx="1805.24" cy="186.2" r="4.5" fill="none" stroke="#E0902A" stroke-width="1.5"/>
<circle cx="1830.97" cy="185" r="4.5" fill="none" stroke="#E0902A" stroke-width="1.5"/>
<circle cx="1856.71" cy="184.59" r="4.5" fill="none" stroke="#E0902A" stroke-width="1.5"/>
<circle cx="1882.45" cy="183.51" r="4.5" fill="none" stroke="#E0902A" stroke-width="1.5"/>
<circle cx="1908.19" cy="183.1" r="4.5" fill="none" stroke="#E0902A" stroke-width="1.5"/>
<circle cx="1933.92" cy="183.51" r="4.5" fill="none" stroke="#E0902A" stroke-width="1.5"/>
<circle cx="1959.66" cy="183.1" r="4.5" fill="none" stroke="#E0902A" stroke-width="1.5"/>
<polyline points="1599.34,283.8 1625.07,220.24 1650.81,200.43 1676.55,197.13 1702.29,192.59 1728.02,189.29 1753.76,188.47 1779.5,186.81 1805.24,185.78 1830.97,185.91 1856.71,186.32 1882.45,183.93 1908.19,183.8 1933.92,185.91 1959.66,188.47" fill="none" stroke="#E04A18" stroke-width="1.5" stroke-linejoin="round"/>
<path d="M1599.34 277.6L1603.64 283.8L1599.34 290L1595.04 283.8Z" fill="none" stroke="#E04A18" stroke-width="1.5" stroke-linejoin="miter"/>
<path d="M1625.07 214.04L1629.37 220.24L1625.07 226.44L1620.77 220.24Z" fill="none" stroke="#E04A18" stroke-width="1.5" stroke-linejoin="miter"/>
<path d="M1650.81 194.23L1655.11 200.43L1650.81 206.63L1646.51 200.43Z" fill="none" stroke="#E04A18" stroke-width="1.5" stroke-linejoin="miter"/>
<path d="M1676.55 190.93L1680.85 197.13L1676.55 203.33L1672.25 197.13Z" fill="none" stroke="#E04A18" stroke-width="1.5" stroke-linejoin="miter"/>
<path d="M1702.29 186.39L1706.59 192.59L1702.29 198.79L1697.99 192.59Z" fill="none" stroke="#E04A18" stroke-width="1.5" stroke-linejoin="miter"/>
<path d="M1728.02 183.09L1732.32 189.29L1728.02 195.49L1723.72 189.29Z" fill="none" stroke="#E04A18" stroke-width="1.5" stroke-linejoin="miter"/>
<path d="M1753.76 182.27L1758.06 188.47L1753.76 194.67L1749.46 188.47Z" fill="none" stroke="#E04A18" stroke-width="1.5" stroke-linejoin="miter"/>
<path d="M1779.5 180.61L1783.8 186.81L1779.5 193.01L1775.2 186.81Z" fill="none" stroke="#E04A18" stroke-width="1.5" stroke-linejoin="miter"/>
<path d="M1805.24 179.58L1809.54 185.78L1805.24 191.98L1800.94 185.78Z" fill="none" stroke="#E04A18" stroke-width="1.5" stroke-linejoin="miter"/>
<path d="M1830.97 179.71L1835.27 185.91L1830.97 192.11L1826.67 185.91Z" fill="none" stroke="#E04A18" stroke-width="1.5" stroke-linejoin="miter"/>
<path d="M1856.71 180.12L1861.01 186.32L1856.71 192.52L1852.41 186.32Z" fill="none" stroke="#E04A18" stroke-width="1.5" stroke-linejoin="miter"/>
<path d="M1882.45 177.73L1886.75 183.93L1882.45 190.13L1878.15 183.93Z" fill="none" stroke="#E04A18" stroke-width="1.5" stroke-linejoin="miter"/>
<path d="M1908.19 177.6L1912.49 183.8L1908.19 190L1903.89 183.8Z" fill="none" stroke="#E04A18" stroke-width="1.5" stroke-linejoin="miter"/>
<path d="M1933.92 179.71L1938.22 185.91L1933.92 192.11L1929.62 185.91Z" fill="none" stroke="#E04A18" stroke-width="1.5" stroke-linejoin="miter"/>
<path d="M1959.66 182.27L1963.96 188.47L1959.66 194.67L1955.36 188.47Z" fill="none" stroke="#E04A18" stroke-width="1.5" stroke-linejoin="miter"/>
<polyline points="1599.34,313.93 1625.07,218.59 1650.81,190.94 1676.55,190.94 1702.29,185.16 1728.02,182.89 1753.76,188.3 1779.5,186.4 1805.24,181.99 1830.97,182.11 1856.71,185.29 1882.45,185.99 1908.19,182.11 1933.92,179.3 1959.66,174.85" fill="none" stroke="#7B1010" stroke-width="1.5" stroke-linejoin="round"/>
<path d="M1599.34 308.03L1604.24 316.73L1594.44 316.73Z" fill="none" stroke="#7B1010" stroke-width="1.5" stroke-linejoin="miter"/>
<path d="M1625.07 212.69L1629.97 221.39L1620.17 221.39Z" fill="none" stroke="#7B1010" stroke-width="1.5" stroke-linejoin="miter"/>
<path d="M1650.81 185.04L1655.71 193.74L1645.91 193.74Z" fill="none" stroke="#7B1010" stroke-width="1.5" stroke-linejoin="miter"/>
<path d="M1676.55 185.04L1681.45 193.74L1671.65 193.74Z" fill="none" stroke="#7B1010" stroke-width="1.5" stroke-linejoin="miter"/>
<path d="M1702.29 179.26L1707.19 187.96L1697.39 187.96Z" fill="none" stroke="#7B1010" stroke-width="1.5" stroke-linejoin="miter"/>
<path d="M1728.02 176.99L1732.92 185.69L1723.12 185.69Z" fill="none" stroke="#7B1010" stroke-width="1.5" stroke-linejoin="miter"/>
<path d="M1753.76 182.4L1758.66 191.1L1748.86 191.1Z" fill="none" stroke="#7B1010" stroke-width="1.5" stroke-linejoin="miter"/>
<path d="M1779.5 180.5L1784.4 189.2L1774.6 189.2Z" fill="none" stroke="#7B1010" stroke-width="1.5" stroke-linejoin="miter"/>
<path d="M1805.24 176.09L1810.14 184.79L1800.34 184.79Z" fill="none" stroke="#7B1010" stroke-width="1.5" stroke-linejoin="miter"/>
<path d="M1830.97 176.21L1835.88 184.91L1826.07 184.91Z" fill="none" stroke="#7B1010" stroke-width="1.5" stroke-linejoin="miter"/>
<path d="M1856.71 179.39L1861.61 188.09L1851.81 188.09Z" fill="none" stroke="#7B1010" stroke-width="1.5" stroke-linejoin="miter"/>
<path d="M1882.45 180.09L1887.35 188.79L1877.55 188.79Z" fill="none" stroke="#7B1010" stroke-width="1.5" stroke-linejoin="miter"/>
<path d="M1908.19 176.21L1913.09 184.91L1903.29 184.91Z" fill="none" stroke="#7B1010" stroke-width="1.5" stroke-linejoin="miter"/>
<path d="M1933.92 173.4L1938.83 182.1L1929.02 182.1Z" fill="none" stroke="#7B1010" stroke-width="1.5" stroke-linejoin="miter"/>
<path d="M1959.66 168.95L1964.56 177.65L1954.76 177.65Z" fill="none" stroke="#7B1010" stroke-width="1.5" stroke-linejoin="miter"/>
<circle cx="1780" cy="22.8" r="0.7" fill="#999"/><circle cx="1882.8" cy="22.8" r="0.7" fill="#999"/>
<rect x="1853.7" y="25.9" width="123.6" height="100.7" fill="#fff" stroke="#000" stroke-width="1.6"/>
<path d="M1856.9 40H1886.8" stroke="#4FD1B9" stroke-width="1.5"/>
<rect x="1868.4" y="36.5" width="7" height="7" fill="none" stroke="#4FD1B9" stroke-width="1.5"/>
<text transform="translate(1889.6 45.2) scale(1.2 1)" font-family="'Liberation Serif', 'DejaVu Serif', serif" font-size="18.5" font-style="italic">ϕ</text>
<text transform="translate(1907.6 46.6) scale(1.3 1)" font-family="'Liberation Serif', 'DejaVu Serif', serif" font-size="20.5">=</text>
<text x="1928.3" y="45.4" font-family="'Liberation Serif', 'DejaVu Serif', serif" font-size="20.5">0.618</text>
<path d="M1856.9 64.5H1886.8" stroke="#E0902A" stroke-width="1.5"/>
<circle cx="1871.9" cy="64.5" r="4.5" fill="none" stroke="#E0902A" stroke-width="1.5"/>
<text transform="translate(1889.6 69.7) scale(1.2 1)" font-family="'Liberation Serif', 'DejaVu Serif', serif" font-size="18.5" font-style="italic">ϕ</text>
<text transform="translate(1907.6 71.1) scale(1.3 1)" font-family="'Liberation Serif', 'DejaVu Serif', serif" font-size="20.5">=</text>
<text x="1928.3" y="69.9" font-family="'Liberation Serif', 'DejaVu Serif', serif" font-size="20.5">0.773</text>
<path d="M1856.9 89H1886.8" stroke="#E04A18" stroke-width="1.5"/>
<path d="M1871.9 82.8L1876.2 89L1871.9 95.2L1867.6 89Z" fill="none" stroke="#E04A18" stroke-width="1.5" stroke-linejoin="miter"/>
<text transform="translate(1889.6 94.2) scale(1.2 1)" font-family="'Liberation Serif', 'DejaVu Serif', serif" font-size="18.5" font-style="italic">ϕ</text>
<text transform="translate(1907.6 95.6) scale(1.3 1)" font-family="'Liberation Serif', 'DejaVu Serif', serif" font-size="20.5">=</text>
<text x="1928.3" y="94.4" font-family="'Liberation Serif', 'DejaVu Serif', serif" font-size="20.5">0.811</text>
<path d="M1856.9 113.5H1886.8" stroke="#7B1010" stroke-width="1.5"/>
<path d="M1871.9 107.6L1876.8 116.3L1867 116.3Z" fill="none" stroke="#7B1010" stroke-width="1.5" stroke-linejoin="miter"/>
<text transform="translate(1889.6 118.7) scale(1.2 1)" font-family="'Liberation Serif', 'DejaVu Serif', serif" font-size="18.5" font-style="italic">ϕ</text>
<text transform="translate(1907.6 120.1) scale(1.3 1)" font-family="'Liberation Serif', 'DejaVu Serif', serif" font-size="20.5">=</text>
<text x="1928.3" y="118.9" font-family="'Liberation Serif', 'DejaVu Serif', serif" font-size="20.5">0.822</text>
<text transform="translate(1526 272.5) rotate(-90) scale(1.02 1)" font-family="'Liberation Sans', Arial, sans-serif" font-size="25.7" text-anchor="start">d<tspan font-size="20" dy="-11.5" dx="0.5">2</tspan><tspan dy="11.5"> MSD(t)/dt</tspan><tspan font-size="20" dy="-11.5" dx="0.5">2</tspan></text>
<text transform="translate(1760.7 397.2) scale(0.97 1)" font-family="'Liberation Sans', Arial, sans-serif" font-size="28" text-anchor="middle">t(s)</text>
<text transform="translate(1505.5 31.5) scale(1.0 1)" font-family="'Liberation Sans', Arial, sans-serif" font-size="35.6" font-weight="bold">d</text>
</svg></body></html>
